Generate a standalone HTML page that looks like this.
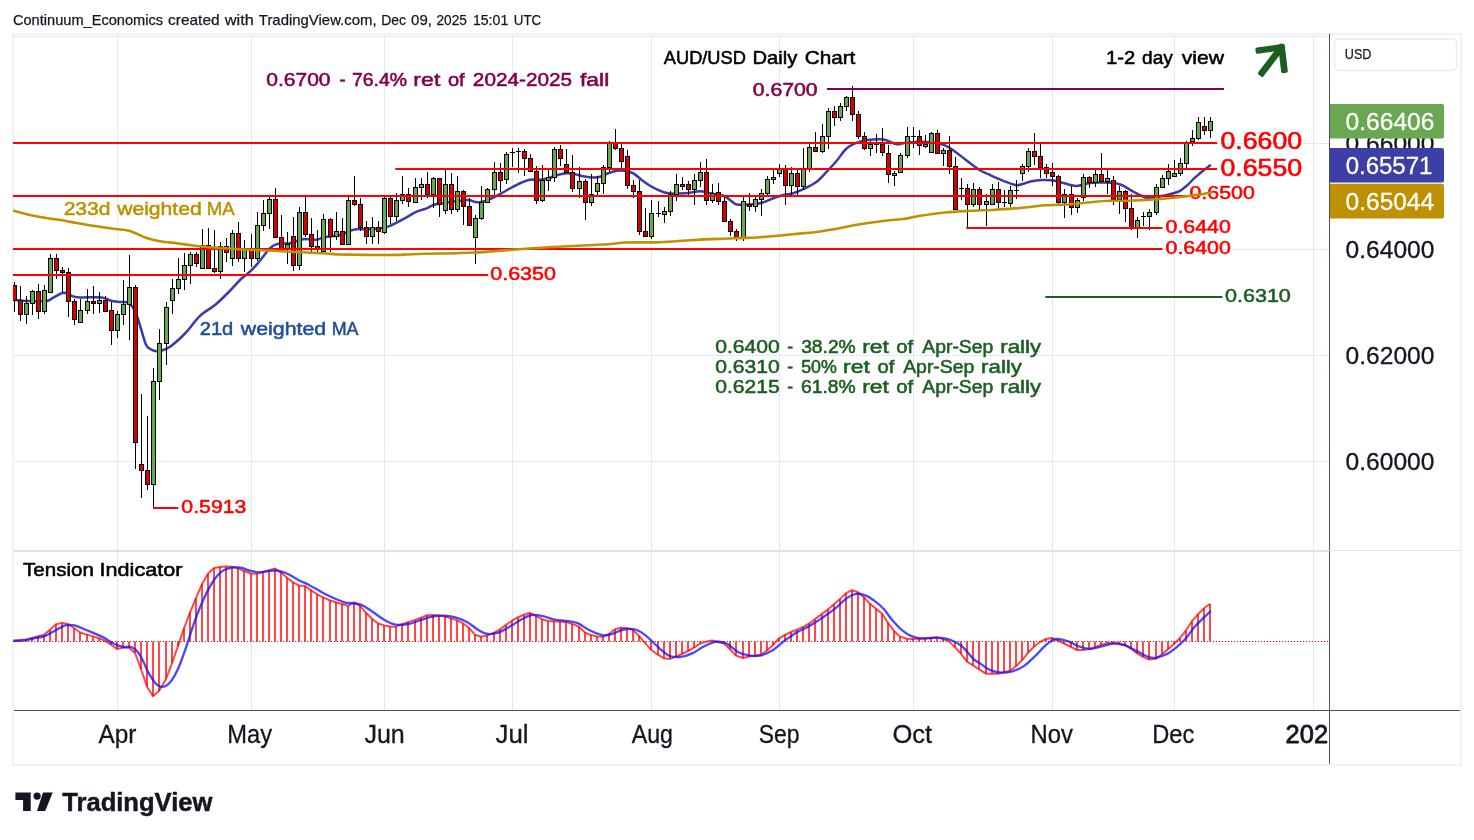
<!DOCTYPE html>
<html><head><meta charset="utf-8"><title>AUD/USD Daily Chart</title>
<style>html,body{margin:0;padding:0;background:#fff;width:1474px;height:840px;overflow:hidden}</style></head>
<body>
<svg width="1474" height="840" viewBox="0 0 1474 840" style="position:absolute;left:0;top:0;will-change:transform;font-family:'Liberation Sans',sans-serif">
<rect width="1474" height="840" fill="#fff"/>
<rect x="13" y="34" width="1448" height="731" fill="none" stroke="#f1f2f4" stroke-width="2"/>
<line x1="117.5" y1="35" x2="117.5" y2="710" stroke="#dfeaf2" stroke-width="1"/>
<line x1="251.5" y1="35" x2="251.5" y2="710" stroke="#dfeaf2" stroke-width="1"/>
<line x1="384.5" y1="35" x2="384.5" y2="710" stroke="#dfeaf2" stroke-width="1"/>
<line x1="512.5" y1="35" x2="512.5" y2="710" stroke="#dfeaf2" stroke-width="1"/>
<line x1="651.5" y1="35" x2="651.5" y2="710" stroke="#dfeaf2" stroke-width="1"/>
<line x1="779.5" y1="35" x2="779.5" y2="710" stroke="#dfeaf2" stroke-width="1"/>
<line x1="913.5" y1="35" x2="913.5" y2="710" stroke="#dfeaf2" stroke-width="1"/>
<line x1="1052.5" y1="35" x2="1052.5" y2="710" stroke="#dfeaf2" stroke-width="1"/>
<line x1="1174.5" y1="35" x2="1174.5" y2="710" stroke="#dfeaf2" stroke-width="1"/>
<line x1="1313.5" y1="35" x2="1313.5" y2="710" stroke="#dfeaf2" stroke-width="1"/>
<line x1="14" y1="36.5" x2="1329" y2="36.5" stroke="#dfeaf2" stroke-width="1"/>
<line x1="14" y1="143.5" x2="1329" y2="143.5" stroke="#dfeaf2" stroke-width="1"/>
<line x1="14" y1="249.5" x2="1329" y2="249.5" stroke="#dfeaf2" stroke-width="1"/>
<line x1="14" y1="355.5" x2="1329" y2="355.5" stroke="#dfeaf2" stroke-width="1"/>
<line x1="14" y1="461.5" x2="1329" y2="461.5" stroke="#dfeaf2" stroke-width="1"/>
<rect x="14" y="550" width="1315" height="2" fill="#dae2ec"/><rect x="1330" y="550" width="130" height="1" fill="#e0e3eb"/>
<defs><clipPath id="cp"><rect x="13" y="36" width="1316" height="674"/></clipPath><clipPath id="tx"><rect x="13" y="711" width="1315.3" height="53"/></clipPath></defs>
<g clip-path="url(#cp)">
<path d="M13.3 299.6 C15.6 299.8 21.4 300.7 27.0 300.9 C32.6 301.1 42.3 301.4 46.7 300.9 C51.1 300.3 50.6 298.9 53.2 297.6 C55.8 296.3 60.2 293.7 62.4 293.0 C64.6 292.3 64.5 292.8 66.3 293.4 C68.0 293.9 70.5 295.6 72.9 296.3 C75.3 297.0 75.9 297.2 80.7 297.4 C85.5 297.6 96.9 296.9 101.7 297.4 C106.5 297.9 106.9 299.5 109.5 300.2 C112.1 300.9 114.5 301.4 117.4 301.8 C120.3 302.2 124.2 301.5 126.7 302.3 C129.2 303.1 130.6 303.8 132.5 306.7 C134.4 309.6 136.1 313.8 138.3 320.0 C140.5 326.2 143.7 339.3 145.8 344.2 C147.9 349.1 149.0 348.0 150.8 349.2 C152.6 350.4 154.6 351.2 156.7 351.3 C158.8 351.4 161.1 350.8 163.3 350.0 C165.5 349.2 167.5 348.4 170.0 346.7 C172.5 345.0 175.5 342.5 178.3 340.0 C181.1 337.5 183.1 335.7 186.7 331.7 C190.3 327.7 195.3 320.2 200.0 315.8 C204.7 311.4 210.3 308.9 215.0 305.0 C219.7 301.1 224.1 296.7 228.3 292.5 C232.5 288.3 236.4 283.5 240.0 280.0 C243.6 276.5 246.9 274.6 250.0 271.7 C253.1 268.8 255.8 265.6 258.3 262.7 C260.8 259.8 263.1 256.6 265.0 254.2 C266.9 251.8 268.1 250.0 270.0 248.3 C271.9 246.6 274.5 245.0 276.7 244.2 C278.9 243.4 281.1 243.5 283.3 243.3 C285.5 243.2 286.7 244.0 290.0 243.3 C293.3 242.6 298.9 239.8 303.3 239.2 C307.8 238.6 313.4 240.0 316.7 239.7 C320.0 239.4 319.4 238.3 323.3 237.5 C327.2 236.7 335.6 236.1 340.0 235.0 C344.4 233.9 347.2 231.8 350.0 230.8 C352.8 229.8 353.9 229.5 356.7 229.2 C359.5 228.9 362.8 229.3 366.7 229.2 C370.6 229.0 376.1 228.9 380.0 228.3 C383.9 227.7 386.1 227.3 390.0 225.8 C393.9 224.3 398.9 221.5 403.3 219.2 C407.8 216.8 412.8 213.5 416.7 211.7 C420.6 209.9 423.9 209.4 426.7 208.3 C429.5 207.2 430.8 205.8 433.3 205.0 C435.8 204.2 436.1 204.1 441.7 203.3 C447.3 202.5 461.1 200.2 466.7 200.0 C472.2 199.8 472.5 201.7 475.0 202.0 C477.5 202.3 478.9 202.6 481.7 202.0 C484.5 201.4 488.6 199.6 491.7 198.3 C494.8 197.0 496.7 196.0 500.0 194.2 C503.3 192.4 508.1 189.4 511.7 187.5 C515.3 185.6 518.7 183.8 521.7 182.5 C524.8 181.2 527.2 180.1 530.0 179.7 C532.8 179.3 535.2 180.2 538.3 180.0 C541.3 179.8 545.0 179.2 548.3 178.3 C551.6 177.4 555.2 175.5 558.3 174.7 C561.4 173.9 563.9 173.4 566.7 173.3 C569.5 173.2 572.2 173.7 575.0 174.2 C577.8 174.7 580.5 175.8 583.3 176.3 C586.1 176.9 588.9 177.4 591.7 177.5 C594.5 177.6 597.2 177.4 600.0 176.7 C602.8 176.0 605.5 174.3 608.3 173.3 C611.1 172.3 613.9 171.2 616.7 170.8 C619.5 170.4 622.2 170.4 625.0 170.8 C627.8 171.2 630.5 171.8 633.3 173.3 C636.1 174.8 638.9 177.9 641.7 180.0 C644.5 182.1 647.2 184.1 650.0 185.8 C652.8 187.5 655.2 188.8 658.3 190.0 C661.3 191.2 663.8 192.8 668.3 193.3 C672.8 193.9 679.7 193.6 685.0 193.3 C690.3 193.0 695.8 191.3 700.0 191.3 C704.2 191.3 706.1 192.6 710.0 193.3 C713.9 194.1 720.0 194.7 723.3 195.8 C726.6 196.9 727.8 198.6 730.0 200.0 C732.2 201.4 733.9 203.8 736.7 204.5 C739.5 205.2 742.8 204.7 746.7 204.5 C750.6 204.3 755.6 204.3 760.0 203.3 C764.4 202.3 769.4 199.7 773.3 198.3 C777.2 196.9 780.0 195.8 783.3 195.0 C786.6 194.2 790.0 194.3 793.3 193.3 C796.6 192.3 799.4 191.1 803.3 189.2 C807.2 187.3 812.8 184.6 816.7 181.7 C820.6 178.8 823.4 175.2 826.7 171.7 C830.0 168.2 833.7 164.4 836.7 160.8 C839.8 157.2 842.2 152.8 845.0 150.0 C847.8 147.2 850.2 145.7 853.3 144.2 C856.3 142.7 860.0 141.6 863.3 140.8 C866.6 140.0 870.0 139.7 873.3 139.5 C876.6 139.3 880.5 139.1 883.3 139.5 C886.1 139.9 887.8 140.9 890.0 141.7 C892.2 142.5 894.2 144.0 896.7 144.2 C899.2 144.4 901.1 143.4 905.0 143.0 C908.9 142.6 913.9 141.5 920.0 141.7 C926.1 141.9 936.4 142.9 941.7 144.2 C947.0 145.4 947.8 146.7 951.7 149.2 C955.6 151.7 960.6 155.9 965.0 159.2 C969.4 162.5 974.4 166.7 978.3 169.2 C982.2 171.7 984.1 172.3 988.3 174.2 C992.5 176.1 998.8 179.0 1003.3 180.8 C1007.8 182.6 1011.9 184.4 1015.0 185.0 C1018.1 185.6 1018.9 184.8 1021.7 184.2 C1024.5 183.6 1028.4 182.0 1031.7 181.3 C1035.0 180.6 1038.4 180.2 1041.7 180.0 C1045.0 179.8 1048.4 179.9 1051.7 180.3 C1055.0 180.7 1058.4 181.7 1061.7 182.5 C1065.0 183.3 1068.9 184.8 1071.7 185.3 C1074.5 185.9 1075.5 186.1 1078.3 185.8 C1081.1 185.5 1085.0 183.9 1088.3 183.3 C1091.6 182.8 1094.4 182.6 1098.3 182.5 C1102.2 182.4 1107.8 182.4 1111.7 182.8 C1115.6 183.2 1118.1 183.5 1121.7 185.0 C1125.3 186.5 1129.7 189.8 1133.3 191.7 C1136.9 193.6 1140.5 195.6 1143.3 196.7 C1146.1 197.8 1146.7 198.2 1150.0 198.0 C1153.3 197.8 1159.4 196.6 1163.3 195.8 C1167.2 195.0 1170.5 194.1 1173.3 193.3 C1176.1 192.5 1177.8 192.1 1180.0 190.8 C1182.2 189.6 1184.5 187.7 1186.7 185.8 C1188.9 183.9 1191.1 181.3 1193.3 179.2 C1195.5 177.1 1197.8 175.2 1200.0 173.3 C1202.2 171.4 1204.9 169.4 1206.7 168.0 C1208.5 166.6 1210.1 165.2 1210.8 164.7" fill="none" stroke="#3a3aa8" stroke-width="2.5" stroke-linejoin="round"/>
<rect x="14.0" y="282" width="1" height="30" fill="#000"/>
<rect x="12.5" y="285.5" width="4" height="15" fill="#d90000" stroke="#000" stroke-width="1"/>
<rect x="20.0" y="286" width="1" height="35" fill="#000"/>
<rect x="18.5" y="300.5" width="4" height="14" fill="#d90000" stroke="#000" stroke-width="1"/>
<rect x="26.0" y="296" width="1" height="28" fill="#000"/>
<rect x="24.5" y="303.5" width="4" height="11" fill="#6aa84f" stroke="#000" stroke-width="1"/>
<rect x="32.0" y="290" width="1" height="25" fill="#000"/>
<rect x="30.5" y="291.5" width="4" height="12" fill="#6aa84f" stroke="#000" stroke-width="1"/>
<rect x="38.0" y="284" width="1" height="35" fill="#000"/>
<rect x="36.5" y="291.5" width="4" height="20" fill="#d90000" stroke="#000" stroke-width="1"/>
<rect x="44.0" y="285" width="1" height="29" fill="#000"/>
<rect x="42.5" y="290.5" width="4" height="21" fill="#6aa84f" stroke="#000" stroke-width="1"/>
<rect x="50.0" y="254" width="1" height="39" fill="#000"/>
<rect x="48.5" y="258.5" width="4" height="34" fill="#6aa84f" stroke="#000" stroke-width="1"/>
<rect x="56.0" y="254" width="1" height="25" fill="#000"/>
<rect x="54.5" y="258.5" width="4" height="12" fill="#d90000" stroke="#000" stroke-width="1"/>
<rect x="62.0" y="267" width="1" height="25" fill="#000"/>
<rect x="60.5" y="270.5" width="4" height="2" fill="#d90000" stroke="#000" stroke-width="1"/>
<rect x="68.0" y="268" width="1" height="49" fill="#000"/>
<rect x="66.5" y="272.5" width="4" height="29" fill="#d90000" stroke="#000" stroke-width="1"/>
<rect x="74.0" y="299" width="1" height="26" fill="#000"/>
<rect x="72.5" y="301.5" width="4" height="18" fill="#d90000" stroke="#000" stroke-width="1"/>
<rect x="80.0" y="299" width="1" height="24" fill="#000"/>
<rect x="78.5" y="310.5" width="4" height="12" fill="#6aa84f" stroke="#000" stroke-width="1"/>
<rect x="87.0" y="289" width="1" height="25" fill="#000"/>
<rect x="85.5" y="301.5" width="4" height="9" fill="#6aa84f" stroke="#000" stroke-width="1"/>
<rect x="93.0" y="286" width="1" height="28" fill="#000"/>
<rect x="91.5" y="301.5" width="4" height="2" fill="#d90000" stroke="#000" stroke-width="1"/>
<rect x="99.0" y="292" width="1" height="21" fill="#000"/>
<rect x="97.5" y="300.5" width="4" height="3" fill="#6aa84f" stroke="#000" stroke-width="1"/>
<rect x="105.0" y="296" width="1" height="16" fill="#000"/>
<rect x="103.5" y="300.5" width="4" height="11" fill="#d90000" stroke="#000" stroke-width="1"/>
<rect x="111.0" y="302" width="1" height="43" fill="#000"/>
<rect x="109.5" y="310.5" width="4" height="20" fill="#d90000" stroke="#000" stroke-width="1"/>
<rect x="117.0" y="311" width="1" height="27" fill="#000"/>
<rect x="115.5" y="314.5" width="4" height="16" fill="#6aa84f" stroke="#000" stroke-width="1"/>
<rect x="123.0" y="280" width="1" height="45" fill="#000"/>
<rect x="121.5" y="304.5" width="4" height="10" fill="#6aa84f" stroke="#000" stroke-width="1"/>
<rect x="129.0" y="255" width="1" height="85" fill="#000"/>
<rect x="127.5" y="287.5" width="4" height="17" fill="#6aa84f" stroke="#000" stroke-width="1"/>
<rect x="135.0" y="285" width="1" height="184" fill="#000"/>
<rect x="133.5" y="287.5" width="4" height="155" fill="#d90000" stroke="#000" stroke-width="1"/>
<rect x="141.0" y="394" width="1" height="104" fill="#000"/>
<rect x="139.5" y="464.5" width="4" height="6" fill="#d90000" stroke="#000" stroke-width="1"/>
<rect x="147.0" y="416" width="1" height="74" fill="#000"/>
<rect x="145.5" y="470.5" width="4" height="14" fill="#d90000" stroke="#000" stroke-width="1"/>
<rect x="153.0" y="368" width="1" height="140" fill="#000"/>
<rect x="151.5" y="381.5" width="4" height="103" fill="#6aa84f" stroke="#000" stroke-width="1"/>
<rect x="159.0" y="329" width="1" height="71" fill="#000"/>
<rect x="157.5" y="343.5" width="4" height="38" fill="#6aa84f" stroke="#000" stroke-width="1"/>
<rect x="166.0" y="302" width="1" height="63" fill="#000"/>
<rect x="164.5" y="307.5" width="4" height="36" fill="#6aa84f" stroke="#000" stroke-width="1"/>
<rect x="172.0" y="279" width="1" height="35" fill="#000"/>
<rect x="170.5" y="288.5" width="4" height="12" fill="#6aa84f" stroke="#000" stroke-width="1"/>
<rect x="178.0" y="258" width="1" height="36" fill="#000"/>
<rect x="176.5" y="279.5" width="4" height="9" fill="#6aa84f" stroke="#000" stroke-width="1"/>
<rect x="184.0" y="253" width="1" height="37" fill="#000"/>
<rect x="182.5" y="265.5" width="4" height="14" fill="#6aa84f" stroke="#000" stroke-width="1"/>
<rect x="190.0" y="252" width="1" height="32" fill="#000"/>
<rect x="188.5" y="254.5" width="4" height="11" fill="#6aa84f" stroke="#000" stroke-width="1"/>
<rect x="196.0" y="252" width="1" height="15" fill="#000"/>
<rect x="194.5" y="254.5" width="4" height="9" fill="#d90000" stroke="#000" stroke-width="1"/>
<rect x="202.0" y="229" width="1" height="40" fill="#000"/>
<rect x="200.5" y="245.5" width="4" height="23" fill="#6aa84f" stroke="#000" stroke-width="1"/>
<rect x="208.0" y="228" width="1" height="41" fill="#000"/>
<rect x="206.5" y="245.5" width="4" height="23" fill="#d90000" stroke="#000" stroke-width="1"/>
<rect x="214.0" y="230" width="1" height="43" fill="#000"/>
<rect x="212.5" y="268.5" width="4" height="3" fill="#d90000" stroke="#000" stroke-width="1"/>
<rect x="220.0" y="242" width="1" height="37" fill="#000"/>
<rect x="218.5" y="246.5" width="4" height="25" fill="#6aa84f" stroke="#000" stroke-width="1"/>
<rect x="226.0" y="238" width="1" height="24" fill="#000"/>
<rect x="224.5" y="246.5" width="4" height="6" fill="#d90000" stroke="#000" stroke-width="1"/>
<rect x="232.0" y="230" width="1" height="36" fill="#000"/>
<rect x="230.5" y="233.5" width="4" height="25" fill="#6aa84f" stroke="#000" stroke-width="1"/>
<rect x="238.0" y="222" width="1" height="40" fill="#000"/>
<rect x="236.5" y="233.5" width="4" height="25" fill="#d90000" stroke="#000" stroke-width="1"/>
<rect x="244.0" y="240" width="1" height="32" fill="#000"/>
<rect x="242.5" y="248.5" width="4" height="10" fill="#6aa84f" stroke="#000" stroke-width="1"/>
<rect x="251.0" y="234" width="1" height="33" fill="#000"/>
<rect x="249.5" y="248.5" width="4" height="10" fill="#d90000" stroke="#000" stroke-width="1"/>
<rect x="257.0" y="212" width="1" height="49" fill="#000"/>
<rect x="255.5" y="225.5" width="4" height="33" fill="#6aa84f" stroke="#000" stroke-width="1"/>
<rect x="263.0" y="200" width="1" height="31" fill="#000"/>
<rect x="261.5" y="213.5" width="4" height="12" fill="#6aa84f" stroke="#000" stroke-width="1"/>
<rect x="269.0" y="197" width="1" height="32" fill="#000"/>
<rect x="267.5" y="199.5" width="4" height="14" fill="#6aa84f" stroke="#000" stroke-width="1"/>
<rect x="275.0" y="188" width="1" height="50" fill="#000"/>
<rect x="273.5" y="199.5" width="4" height="38" fill="#d90000" stroke="#000" stroke-width="1"/>
<rect x="281.0" y="215" width="1" height="35" fill="#000"/>
<rect x="279.5" y="237.5" width="4" height="11" fill="#d90000" stroke="#000" stroke-width="1"/>
<rect x="287.0" y="232" width="1" height="32" fill="#000"/>
<rect x="285.5" y="244.5" width="4" height="4" fill="#6aa84f" stroke="#000" stroke-width="1"/>
<rect x="293.0" y="217" width="1" height="54" fill="#000"/>
<rect x="291.5" y="236.5" width="4" height="29" fill="#d90000" stroke="#000" stroke-width="1"/>
<rect x="299.0" y="207" width="1" height="63" fill="#000"/>
<rect x="297.5" y="212.5" width="4" height="53" fill="#6aa84f" stroke="#000" stroke-width="1"/>
<rect x="305.0" y="197" width="1" height="40" fill="#000"/>
<rect x="303.5" y="212.5" width="4" height="22" fill="#d90000" stroke="#000" stroke-width="1"/>
<rect x="311.0" y="218" width="1" height="35" fill="#000"/>
<rect x="309.5" y="234.5" width="4" height="12" fill="#d90000" stroke="#000" stroke-width="1"/>
<rect x="317.0" y="230" width="1" height="24" fill="#000"/>
<rect x="315.5" y="246.5" width="4" height="3" fill="#d90000" stroke="#000" stroke-width="1"/>
<rect x="323.0" y="214" width="1" height="38" fill="#000"/>
<rect x="321.5" y="219.5" width="4" height="32" fill="#6aa84f" stroke="#000" stroke-width="1"/>
<rect x="330.0" y="218" width="1" height="34" fill="#000"/>
<rect x="328.5" y="219.5" width="4" height="17" fill="#d90000" stroke="#000" stroke-width="1"/>
<rect x="336.0" y="212" width="1" height="28" fill="#000"/>
<rect x="334.5" y="231.5" width="4" height="5" fill="#6aa84f" stroke="#000" stroke-width="1"/>
<rect x="342.0" y="218" width="1" height="27" fill="#000"/>
<rect x="340.5" y="231.5" width="4" height="13" fill="#d90000" stroke="#000" stroke-width="1"/>
<rect x="348.0" y="197" width="1" height="48" fill="#000"/>
<rect x="346.5" y="200.5" width="4" height="44" fill="#6aa84f" stroke="#000" stroke-width="1"/>
<rect x="354.0" y="176" width="1" height="30" fill="#000"/>
<rect x="352.5" y="200.5" width="4" height="4" fill="#d90000" stroke="#000" stroke-width="1"/>
<rect x="360.0" y="198" width="1" height="33" fill="#000"/>
<rect x="358.5" y="204.5" width="4" height="23" fill="#d90000" stroke="#000" stroke-width="1"/>
<rect x="366.0" y="221" width="1" height="23" fill="#000"/>
<rect x="364.5" y="227.5" width="4" height="9" fill="#d90000" stroke="#000" stroke-width="1"/>
<rect x="372.0" y="217" width="1" height="27" fill="#000"/>
<rect x="370.5" y="227.5" width="4" height="9" fill="#6aa84f" stroke="#000" stroke-width="1"/>
<rect x="378.0" y="221" width="1" height="23" fill="#000"/>
<rect x="376.5" y="227.5" width="4" height="4" fill="#d90000" stroke="#000" stroke-width="1"/>
<rect x="384.0" y="197" width="1" height="37" fill="#000"/>
<rect x="382.5" y="198.5" width="4" height="34" fill="#6aa84f" stroke="#000" stroke-width="1"/>
<rect x="390.0" y="197" width="1" height="27" fill="#000"/>
<rect x="388.5" y="198.5" width="4" height="18" fill="#d90000" stroke="#000" stroke-width="1"/>
<rect x="396.0" y="193" width="1" height="28" fill="#000"/>
<rect x="394.5" y="200.5" width="4" height="16" fill="#6aa84f" stroke="#000" stroke-width="1"/>
<rect x="402.0" y="176" width="1" height="28" fill="#000"/>
<rect x="400.5" y="194.5" width="4" height="6" fill="#6aa84f" stroke="#000" stroke-width="1"/>
<rect x="408.0" y="188" width="1" height="19" fill="#000"/>
<rect x="406.5" y="194.5" width="4" height="7" fill="#d90000" stroke="#000" stroke-width="1"/>
<rect x="415.0" y="178" width="1" height="25" fill="#000"/>
<rect x="413.5" y="187.5" width="4" height="15" fill="#6aa84f" stroke="#000" stroke-width="1"/>
<rect x="421.0" y="178" width="1" height="22" fill="#000"/>
<rect x="419.5" y="184.5" width="4" height="3" fill="#6aa84f" stroke="#000" stroke-width="1"/>
<rect x="427.0" y="172" width="1" height="26" fill="#000"/>
<rect x="425.5" y="184.5" width="4" height="10" fill="#d90000" stroke="#000" stroke-width="1"/>
<rect x="433.0" y="177" width="1" height="31" fill="#000"/>
<rect x="431.5" y="178.5" width="4" height="16" fill="#6aa84f" stroke="#000" stroke-width="1"/>
<rect x="439.0" y="178" width="1" height="39" fill="#000"/>
<rect x="437.5" y="178.5" width="4" height="26" fill="#d90000" stroke="#000" stroke-width="1"/>
<rect x="445.0" y="170" width="1" height="44" fill="#000"/>
<rect x="443.5" y="184.5" width="4" height="26" fill="#6aa84f" stroke="#000" stroke-width="1"/>
<rect x="451.0" y="173" width="1" height="41" fill="#000"/>
<rect x="449.5" y="184.5" width="4" height="25" fill="#d90000" stroke="#000" stroke-width="1"/>
<rect x="457.0" y="176" width="1" height="36" fill="#000"/>
<rect x="455.5" y="191.5" width="4" height="18" fill="#6aa84f" stroke="#000" stroke-width="1"/>
<rect x="463.0" y="190" width="1" height="35" fill="#000"/>
<rect x="461.5" y="191.5" width="4" height="15" fill="#d90000" stroke="#000" stroke-width="1"/>
<rect x="469.0" y="198" width="1" height="28" fill="#000"/>
<rect x="467.5" y="206.5" width="4" height="19" fill="#d90000" stroke="#000" stroke-width="1"/>
<rect x="475.0" y="215" width="1" height="49" fill="#000"/>
<rect x="473.5" y="218.5" width="4" height="19" fill="#6aa84f" stroke="#000" stroke-width="1"/>
<rect x="481.0" y="186" width="1" height="34" fill="#000"/>
<rect x="479.5" y="202.5" width="4" height="16" fill="#6aa84f" stroke="#000" stroke-width="1"/>
<rect x="487.0" y="188" width="1" height="15" fill="#000"/>
<rect x="485.5" y="189.5" width="4" height="13" fill="#6aa84f" stroke="#000" stroke-width="1"/>
<rect x="494.0" y="162" width="1" height="33" fill="#000"/>
<rect x="492.5" y="172.5" width="4" height="17" fill="#6aa84f" stroke="#000" stroke-width="1"/>
<rect x="500.0" y="163" width="1" height="29" fill="#000"/>
<rect x="498.5" y="172.5" width="4" height="8" fill="#d90000" stroke="#000" stroke-width="1"/>
<rect x="506.0" y="152" width="1" height="32" fill="#000"/>
<rect x="504.5" y="154.5" width="4" height="25" fill="#6aa84f" stroke="#000" stroke-width="1"/>
<rect x="512.0" y="148" width="1" height="19" fill="#000"/>
<rect x="510.0" y="152" width="5" height="1" fill="#000"/>
<rect x="518.0" y="148" width="1" height="25" fill="#000"/>
<rect x="516.0" y="151" width="5" height="1" fill="#000"/>
<rect x="524.0" y="149" width="1" height="27" fill="#000"/>
<rect x="522.5" y="151.5" width="4" height="7" fill="#d90000" stroke="#000" stroke-width="1"/>
<rect x="530.0" y="154" width="1" height="18" fill="#000"/>
<rect x="528.5" y="158.5" width="4" height="13" fill="#d90000" stroke="#000" stroke-width="1"/>
<rect x="536.0" y="166" width="1" height="38" fill="#000"/>
<rect x="534.5" y="171.5" width="4" height="29" fill="#d90000" stroke="#000" stroke-width="1"/>
<rect x="542.0" y="165" width="1" height="37" fill="#000"/>
<rect x="540.5" y="180.5" width="4" height="20" fill="#6aa84f" stroke="#000" stroke-width="1"/>
<rect x="548.0" y="170" width="1" height="21" fill="#000"/>
<rect x="546.5" y="177.5" width="4" height="3" fill="#6aa84f" stroke="#000" stroke-width="1"/>
<rect x="554.0" y="147" width="1" height="35" fill="#000"/>
<rect x="552.5" y="149.5" width="4" height="28" fill="#6aa84f" stroke="#000" stroke-width="1"/>
<rect x="560.0" y="145" width="1" height="21" fill="#000"/>
<rect x="558.5" y="149.5" width="4" height="9" fill="#d90000" stroke="#000" stroke-width="1"/>
<rect x="566.0" y="149" width="1" height="24" fill="#000"/>
<rect x="564.5" y="164.5" width="4" height="8" fill="#d90000" stroke="#000" stroke-width="1"/>
<rect x="572.0" y="155" width="1" height="37" fill="#000"/>
<rect x="570.5" y="172.5" width="4" height="16" fill="#d90000" stroke="#000" stroke-width="1"/>
<rect x="579.0" y="167" width="1" height="31" fill="#000"/>
<rect x="577.5" y="181.5" width="4" height="7" fill="#6aa84f" stroke="#000" stroke-width="1"/>
<rect x="585.0" y="179" width="1" height="41" fill="#000"/>
<rect x="583.5" y="181.5" width="4" height="21" fill="#d90000" stroke="#000" stroke-width="1"/>
<rect x="591.0" y="174" width="1" height="32" fill="#000"/>
<rect x="589.5" y="194.5" width="4" height="8" fill="#6aa84f" stroke="#000" stroke-width="1"/>
<rect x="597.0" y="176" width="1" height="19" fill="#000"/>
<rect x="595.5" y="183.5" width="4" height="8" fill="#6aa84f" stroke="#000" stroke-width="1"/>
<rect x="603.0" y="165" width="1" height="29" fill="#000"/>
<rect x="601.5" y="167.5" width="4" height="16" fill="#6aa84f" stroke="#000" stroke-width="1"/>
<rect x="609.0" y="141" width="1" height="31" fill="#000"/>
<rect x="607.5" y="143.5" width="4" height="24" fill="#6aa84f" stroke="#000" stroke-width="1"/>
<rect x="615.0" y="129" width="1" height="21" fill="#000"/>
<rect x="613.5" y="143.5" width="4" height="5" fill="#d90000" stroke="#000" stroke-width="1"/>
<rect x="621.0" y="144" width="1" height="24" fill="#000"/>
<rect x="619.5" y="148.5" width="4" height="13" fill="#d90000" stroke="#000" stroke-width="1"/>
<rect x="627.0" y="150" width="1" height="39" fill="#000"/>
<rect x="625.5" y="156.5" width="4" height="29" fill="#d90000" stroke="#000" stroke-width="1"/>
<rect x="633.0" y="180" width="1" height="18" fill="#000"/>
<rect x="631.5" y="185.5" width="4" height="6" fill="#d90000" stroke="#000" stroke-width="1"/>
<rect x="639.0" y="180" width="1" height="55" fill="#000"/>
<rect x="637.5" y="191.5" width="4" height="40" fill="#d90000" stroke="#000" stroke-width="1"/>
<rect x="645.0" y="208" width="1" height="29" fill="#000"/>
<rect x="643.5" y="231.5" width="4" height="5" fill="#d90000" stroke="#000" stroke-width="1"/>
<rect x="651.0" y="200" width="1" height="39" fill="#000"/>
<rect x="649.5" y="213.5" width="4" height="23" fill="#6aa84f" stroke="#000" stroke-width="1"/>
<rect x="658.0" y="201" width="1" height="16" fill="#000"/>
<rect x="656.0" y="213" width="5" height="1" fill="#000"/>
<rect x="664.0" y="207" width="1" height="16" fill="#000"/>
<rect x="662.5" y="211.5" width="4" height="3" fill="#6aa84f" stroke="#000" stroke-width="1"/>
<rect x="670.0" y="191" width="1" height="25" fill="#000"/>
<rect x="668.5" y="194.5" width="4" height="17" fill="#6aa84f" stroke="#000" stroke-width="1"/>
<rect x="676.0" y="174" width="1" height="27" fill="#000"/>
<rect x="674.5" y="184.5" width="4" height="10" fill="#6aa84f" stroke="#000" stroke-width="1"/>
<rect x="682.0" y="177" width="1" height="13" fill="#000"/>
<rect x="680.5" y="184.5" width="4" height="2" fill="#d90000" stroke="#000" stroke-width="1"/>
<rect x="688.0" y="181" width="1" height="14" fill="#000"/>
<rect x="686.5" y="184.5" width="4" height="5" fill="#d90000" stroke="#000" stroke-width="1"/>
<rect x="694.0" y="174" width="1" height="31" fill="#000"/>
<rect x="692.5" y="180.5" width="4" height="9" fill="#6aa84f" stroke="#000" stroke-width="1"/>
<rect x="700.0" y="162" width="1" height="25" fill="#000"/>
<rect x="698.5" y="172.5" width="4" height="8" fill="#6aa84f" stroke="#000" stroke-width="1"/>
<rect x="706.0" y="159" width="1" height="46" fill="#000"/>
<rect x="704.5" y="172.5" width="4" height="28" fill="#d90000" stroke="#000" stroke-width="1"/>
<rect x="712.0" y="184" width="1" height="19" fill="#000"/>
<rect x="710.5" y="193.5" width="4" height="7" fill="#6aa84f" stroke="#000" stroke-width="1"/>
<rect x="718.0" y="183" width="1" height="22" fill="#000"/>
<rect x="716.5" y="192.5" width="4" height="9" fill="#d90000" stroke="#000" stroke-width="1"/>
<rect x="724.0" y="197" width="1" height="25" fill="#000"/>
<rect x="722.5" y="201.5" width="4" height="20" fill="#d90000" stroke="#000" stroke-width="1"/>
<rect x="730.0" y="219" width="1" height="17" fill="#000"/>
<rect x="728.5" y="221.5" width="4" height="10" fill="#d90000" stroke="#000" stroke-width="1"/>
<rect x="736.0" y="229" width="1" height="12" fill="#000"/>
<rect x="734.5" y="231.5" width="4" height="7" fill="#d90000" stroke="#000" stroke-width="1"/>
<rect x="743.0" y="197" width="1" height="44" fill="#000"/>
<rect x="741.5" y="201.5" width="4" height="37" fill="#6aa84f" stroke="#000" stroke-width="1"/>
<rect x="749.0" y="193" width="1" height="18" fill="#000"/>
<rect x="747.5" y="204.5" width="4" height="2" fill="#d90000" stroke="#000" stroke-width="1"/>
<rect x="755.0" y="197" width="1" height="15" fill="#000"/>
<rect x="753.5" y="199.5" width="4" height="7" fill="#6aa84f" stroke="#000" stroke-width="1"/>
<rect x="761.0" y="189" width="1" height="27" fill="#000"/>
<rect x="759.5" y="193.5" width="4" height="6" fill="#6aa84f" stroke="#000" stroke-width="1"/>
<rect x="767.0" y="176" width="1" height="19" fill="#000"/>
<rect x="765.5" y="179.5" width="4" height="14" fill="#6aa84f" stroke="#000" stroke-width="1"/>
<rect x="773.0" y="170" width="1" height="14" fill="#000"/>
<rect x="771.5" y="177.5" width="4" height="2" fill="#6aa84f" stroke="#000" stroke-width="1"/>
<rect x="779.0" y="164" width="1" height="13" fill="#000"/>
<rect x="777.5" y="169.5" width="4" height="4" fill="#6aa84f" stroke="#000" stroke-width="1"/>
<rect x="785.0" y="165" width="1" height="40" fill="#000"/>
<rect x="783.5" y="169.5" width="4" height="16" fill="#d90000" stroke="#000" stroke-width="1"/>
<rect x="791.0" y="167" width="1" height="28" fill="#000"/>
<rect x="789.5" y="173.5" width="4" height="12" fill="#6aa84f" stroke="#000" stroke-width="1"/>
<rect x="797.0" y="170" width="1" height="25" fill="#000"/>
<rect x="795.5" y="173.5" width="4" height="13" fill="#d90000" stroke="#000" stroke-width="1"/>
<rect x="803.0" y="148" width="1" height="42" fill="#000"/>
<rect x="801.5" y="169.5" width="4" height="17" fill="#6aa84f" stroke="#000" stroke-width="1"/>
<rect x="809.0" y="144" width="1" height="28" fill="#000"/>
<rect x="807.5" y="147.5" width="4" height="22" fill="#6aa84f" stroke="#000" stroke-width="1"/>
<rect x="815.0" y="132" width="1" height="20" fill="#000"/>
<rect x="813.5" y="147.5" width="4" height="4" fill="#d90000" stroke="#000" stroke-width="1"/>
<rect x="822.0" y="124" width="1" height="29" fill="#000"/>
<rect x="820.5" y="136.5" width="4" height="15" fill="#6aa84f" stroke="#000" stroke-width="1"/>
<rect x="828.0" y="108" width="1" height="41" fill="#000"/>
<rect x="826.5" y="111.5" width="4" height="25" fill="#6aa84f" stroke="#000" stroke-width="1"/>
<rect x="834.0" y="106" width="1" height="20" fill="#000"/>
<rect x="832.5" y="111.5" width="4" height="6" fill="#d90000" stroke="#000" stroke-width="1"/>
<rect x="840.0" y="103" width="1" height="18" fill="#000"/>
<rect x="838.5" y="106.5" width="4" height="11" fill="#6aa84f" stroke="#000" stroke-width="1"/>
<rect x="846.0" y="96" width="1" height="15" fill="#000"/>
<rect x="844.5" y="97.5" width="4" height="9" fill="#6aa84f" stroke="#000" stroke-width="1"/>
<rect x="852.0" y="86" width="1" height="35" fill="#000"/>
<rect x="850.5" y="97.5" width="4" height="17" fill="#d90000" stroke="#000" stroke-width="1"/>
<rect x="858.0" y="111" width="1" height="28" fill="#000"/>
<rect x="856.5" y="114.5" width="4" height="22" fill="#d90000" stroke="#000" stroke-width="1"/>
<rect x="864.0" y="132" width="1" height="18" fill="#000"/>
<rect x="862.5" y="136.5" width="4" height="12" fill="#d90000" stroke="#000" stroke-width="1"/>
<rect x="870.0" y="141" width="1" height="15" fill="#000"/>
<rect x="868.5" y="144.5" width="4" height="4" fill="#6aa84f" stroke="#000" stroke-width="1"/>
<rect x="876.0" y="134" width="1" height="19" fill="#000"/>
<rect x="874.0" y="144" width="5" height="1" fill="#000"/>
<rect x="882.0" y="128" width="1" height="28" fill="#000"/>
<rect x="880.5" y="144.5" width="4" height="8" fill="#d90000" stroke="#000" stroke-width="1"/>
<rect x="888.0" y="145" width="1" height="38" fill="#000"/>
<rect x="886.5" y="153.5" width="4" height="21" fill="#d90000" stroke="#000" stroke-width="1"/>
<rect x="894.0" y="171" width="1" height="15" fill="#000"/>
<rect x="892.5" y="173.5" width="4" height="2" fill="#6aa84f" stroke="#000" stroke-width="1"/>
<rect x="900.0" y="153" width="1" height="20" fill="#000"/>
<rect x="898.5" y="155.5" width="4" height="17" fill="#6aa84f" stroke="#000" stroke-width="1"/>
<rect x="907.0" y="127" width="1" height="31" fill="#000"/>
<rect x="905.5" y="136.5" width="4" height="19" fill="#6aa84f" stroke="#000" stroke-width="1"/>
<rect x="913.0" y="127" width="1" height="21" fill="#000"/>
<rect x="911.0" y="136" width="5" height="1" fill="#000"/>
<rect x="919.0" y="130" width="1" height="25" fill="#000"/>
<rect x="917.5" y="136.5" width="4" height="9" fill="#d90000" stroke="#000" stroke-width="1"/>
<rect x="925.0" y="135" width="1" height="13" fill="#000"/>
<rect x="923.5" y="144.5" width="4" height="2" fill="#6aa84f" stroke="#000" stroke-width="1"/>
<rect x="931.0" y="132" width="1" height="21" fill="#000"/>
<rect x="929.5" y="133.5" width="4" height="19" fill="#6aa84f" stroke="#000" stroke-width="1"/>
<rect x="937.0" y="130" width="1" height="24" fill="#000"/>
<rect x="935.5" y="133.5" width="4" height="20" fill="#d90000" stroke="#000" stroke-width="1"/>
<rect x="943.0" y="148" width="1" height="18" fill="#000"/>
<rect x="941.5" y="150.5" width="4" height="3" fill="#6aa84f" stroke="#000" stroke-width="1"/>
<rect x="949.0" y="136" width="1" height="38" fill="#000"/>
<rect x="947.5" y="150.5" width="4" height="16" fill="#d90000" stroke="#000" stroke-width="1"/>
<rect x="955.0" y="157" width="1" height="53" fill="#000"/>
<rect x="953.5" y="166.5" width="4" height="43" fill="#d90000" stroke="#000" stroke-width="1"/>
<rect x="961.0" y="178" width="1" height="22" fill="#000"/>
<rect x="959.0" y="188" width="5" height="1" fill="#000"/>
<rect x="967.0" y="184" width="1" height="44" fill="#000"/>
<rect x="965.5" y="188.5" width="4" height="16" fill="#d90000" stroke="#000" stroke-width="1"/>
<rect x="973.0" y="183" width="1" height="24" fill="#000"/>
<rect x="971.5" y="189.5" width="4" height="15" fill="#6aa84f" stroke="#000" stroke-width="1"/>
<rect x="979.0" y="187" width="1" height="23" fill="#000"/>
<rect x="977.5" y="189.5" width="4" height="15" fill="#d90000" stroke="#000" stroke-width="1"/>
<rect x="986.0" y="194" width="1" height="32" fill="#000"/>
<rect x="984.5" y="201.5" width="4" height="3" fill="#6aa84f" stroke="#000" stroke-width="1"/>
<rect x="992.0" y="184" width="1" height="21" fill="#000"/>
<rect x="990.5" y="189.5" width="4" height="15" fill="#6aa84f" stroke="#000" stroke-width="1"/>
<rect x="998.0" y="182" width="1" height="27" fill="#000"/>
<rect x="996.5" y="189.5" width="4" height="13" fill="#d90000" stroke="#000" stroke-width="1"/>
<rect x="1004.0" y="190" width="1" height="17" fill="#000"/>
<rect x="1002.0" y="202" width="5" height="1" fill="#000"/>
<rect x="1010.0" y="186" width="1" height="21" fill="#000"/>
<rect x="1008.5" y="190.5" width="4" height="13" fill="#6aa84f" stroke="#000" stroke-width="1"/>
<rect x="1016.0" y="180" width="1" height="19" fill="#000"/>
<rect x="1014.0" y="190" width="5" height="1" fill="#000"/>
<rect x="1022.0" y="164" width="1" height="17" fill="#000"/>
<rect x="1020.5" y="166.5" width="4" height="7" fill="#6aa84f" stroke="#000" stroke-width="1"/>
<rect x="1028.0" y="148" width="1" height="24" fill="#000"/>
<rect x="1026.5" y="151.5" width="4" height="15" fill="#6aa84f" stroke="#000" stroke-width="1"/>
<rect x="1034.0" y="133" width="1" height="32" fill="#000"/>
<rect x="1032.5" y="151.5" width="4" height="5" fill="#d90000" stroke="#000" stroke-width="1"/>
<rect x="1040.0" y="144" width="1" height="34" fill="#000"/>
<rect x="1038.5" y="156.5" width="4" height="11" fill="#d90000" stroke="#000" stroke-width="1"/>
<rect x="1046.0" y="164" width="1" height="14" fill="#000"/>
<rect x="1044.5" y="167.5" width="4" height="6" fill="#d90000" stroke="#000" stroke-width="1"/>
<rect x="1052.0" y="163" width="1" height="23" fill="#000"/>
<rect x="1050.5" y="172.5" width="4" height="4" fill="#d90000" stroke="#000" stroke-width="1"/>
<rect x="1058.0" y="175" width="1" height="29" fill="#000"/>
<rect x="1056.5" y="176.5" width="4" height="26" fill="#d90000" stroke="#000" stroke-width="1"/>
<rect x="1064.0" y="189" width="1" height="29" fill="#000"/>
<rect x="1062.5" y="194.5" width="4" height="8" fill="#6aa84f" stroke="#000" stroke-width="1"/>
<rect x="1071.0" y="186" width="1" height="29" fill="#000"/>
<rect x="1069.5" y="194.5" width="4" height="13" fill="#d90000" stroke="#000" stroke-width="1"/>
<rect x="1077.0" y="198" width="1" height="15" fill="#000"/>
<rect x="1075.5" y="200.5" width="4" height="7" fill="#6aa84f" stroke="#000" stroke-width="1"/>
<rect x="1083.0" y="174" width="1" height="27" fill="#000"/>
<rect x="1081.5" y="177.5" width="4" height="20" fill="#6aa84f" stroke="#000" stroke-width="1"/>
<rect x="1089.0" y="176" width="1" height="12" fill="#000"/>
<rect x="1087.5" y="177.5" width="4" height="5" fill="#d90000" stroke="#000" stroke-width="1"/>
<rect x="1095.0" y="170" width="1" height="17" fill="#000"/>
<rect x="1093.5" y="174.5" width="4" height="8" fill="#6aa84f" stroke="#000" stroke-width="1"/>
<rect x="1101.0" y="153" width="1" height="30" fill="#000"/>
<rect x="1099.5" y="174.5" width="4" height="7" fill="#d90000" stroke="#000" stroke-width="1"/>
<rect x="1107.0" y="170" width="1" height="24" fill="#000"/>
<rect x="1105.5" y="178.5" width="4" height="3" fill="#6aa84f" stroke="#000" stroke-width="1"/>
<rect x="1113.0" y="176" width="1" height="29" fill="#000"/>
<rect x="1111.5" y="180.5" width="4" height="19" fill="#d90000" stroke="#000" stroke-width="1"/>
<rect x="1119.0" y="186" width="1" height="28" fill="#000"/>
<rect x="1117.5" y="191.5" width="4" height="8" fill="#6aa84f" stroke="#000" stroke-width="1"/>
<rect x="1125.0" y="190" width="1" height="32" fill="#000"/>
<rect x="1123.5" y="191.5" width="4" height="17" fill="#d90000" stroke="#000" stroke-width="1"/>
<rect x="1131.0" y="194" width="1" height="36" fill="#000"/>
<rect x="1129.5" y="208.5" width="4" height="19" fill="#d90000" stroke="#000" stroke-width="1"/>
<rect x="1137.0" y="217" width="1" height="21" fill="#000"/>
<rect x="1135.5" y="220.5" width="4" height="7" fill="#6aa84f" stroke="#000" stroke-width="1"/>
<rect x="1143.0" y="212" width="1" height="14" fill="#000"/>
<rect x="1141.0" y="216" width="5" height="1" fill="#000"/>
<rect x="1149.0" y="209" width="1" height="21" fill="#000"/>
<rect x="1147.5" y="212.5" width="4" height="4" fill="#6aa84f" stroke="#000" stroke-width="1"/>
<rect x="1156.0" y="184" width="1" height="31" fill="#000"/>
<rect x="1154.5" y="187.5" width="4" height="25" fill="#6aa84f" stroke="#000" stroke-width="1"/>
<rect x="1162.0" y="175" width="1" height="13" fill="#000"/>
<rect x="1160.5" y="178.5" width="4" height="9" fill="#6aa84f" stroke="#000" stroke-width="1"/>
<rect x="1168.0" y="164" width="1" height="21" fill="#000"/>
<rect x="1166.5" y="171.5" width="4" height="7" fill="#6aa84f" stroke="#000" stroke-width="1"/>
<rect x="1174.0" y="160" width="1" height="17" fill="#000"/>
<rect x="1172.5" y="173.5" width="4" height="3" fill="#6aa84f" stroke="#000" stroke-width="1"/>
<rect x="1180.0" y="158" width="1" height="18" fill="#000"/>
<rect x="1178.5" y="163.5" width="4" height="10" fill="#6aa84f" stroke="#000" stroke-width="1"/>
<rect x="1186.0" y="141" width="1" height="27" fill="#000"/>
<rect x="1184.5" y="143.5" width="4" height="20" fill="#6aa84f" stroke="#000" stroke-width="1"/>
<rect x="1192.0" y="130" width="1" height="16" fill="#000"/>
<rect x="1190.5" y="138.5" width="4" height="3" fill="#6aa84f" stroke="#000" stroke-width="1"/>
<rect x="1198.0" y="117" width="1" height="23" fill="#000"/>
<rect x="1196.5" y="122.5" width="4" height="16" fill="#6aa84f" stroke="#000" stroke-width="1"/>
<rect x="1204.0" y="117" width="1" height="18" fill="#000"/>
<rect x="1202.5" y="126.5" width="4" height="4" fill="#d90000" stroke="#000" stroke-width="1"/>
<rect x="1210.0" y="117" width="1" height="21" fill="#000"/>
<rect x="1208.5" y="121.5" width="4" height="9" fill="#6aa84f" stroke="#000" stroke-width="1"/>
<line x1="13.0" y1="143.0" x2="1217.2" y2="143.0" stroke="#ff0000" stroke-width="2"/>
<line x1="395.3" y1="169.0" x2="1217.2" y2="169.0" stroke="#ff0000" stroke-width="2"/>
<line x1="13.0" y1="196.0" x2="1189.0" y2="196.0" stroke="#ff0000" stroke-width="2"/>
<line x1="13.0" y1="249.0" x2="1162.5" y2="249.0" stroke="#ff0000" stroke-width="2"/>
<line x1="13.0" y1="275.0" x2="488.2" y2="275.0" stroke="#ff0000" stroke-width="2"/>
<line x1="966.3" y1="228.0" x2="1162.5" y2="228.0" stroke="#ff0000" stroke-width="2"/>
<line x1="153.0" y1="508.0" x2="178.3" y2="508.0" stroke="#ff0000" stroke-width="2"/>
<line x1="826.9" y1="89.0" x2="1224.0" y2="89.0" stroke="#85004b" stroke-width="2"/>
<line x1="1045.3" y1="297.0" x2="1222.3" y2="297.0" stroke="#1b5e20" stroke-width="2"/>
</g>
<text x="266.28" y="86.40" font-size="18.8" fill="#85004b" font-weight="normal" textLength="64.30" lengthAdjust="spacingAndGlyphs" stroke="#85004b" stroke-width="0.55" stroke-linejoin="round">0.6700</text>
<text x="339.53" y="86.40" font-size="18.8" fill="#85004b" font-weight="normal" textLength="6.14" lengthAdjust="spacingAndGlyphs" stroke="#85004b" stroke-width="0.55" stroke-linejoin="round">-</text>
<text x="351.95" y="86.40" font-size="18.8" fill="#85004b" font-weight="normal" textLength="55.11" lengthAdjust="spacingAndGlyphs" stroke="#85004b" stroke-width="0.55" stroke-linejoin="round">76.4%</text>
<text x="413.39" y="86.40" font-size="18.8" fill="#85004b" font-weight="normal" textLength="26.95" lengthAdjust="spacingAndGlyphs" stroke="#85004b" stroke-width="0.55" stroke-linejoin="round">ret</text>
<text x="447.95" y="86.40" font-size="18.8" fill="#85004b" font-weight="normal" textLength="16.77" lengthAdjust="spacingAndGlyphs" stroke="#85004b" stroke-width="0.55" stroke-linejoin="round">of</text>
<text x="472.89" y="86.40" font-size="18.8" fill="#85004b" font-weight="normal" textLength="99.16" lengthAdjust="spacingAndGlyphs" stroke="#85004b" stroke-width="0.55" stroke-linejoin="round">2024-2025</text>
<text x="580.02" y="86.40" font-size="18.8" fill="#85004b" font-weight="normal" textLength="29.24" lengthAdjust="spacingAndGlyphs" stroke="#85004b" stroke-width="0.55" stroke-linejoin="round">fall</text>
<text x="663.86" y="63.90" font-size="19" fill="#000" font-weight="normal" textLength="81.97" lengthAdjust="spacingAndGlyphs" stroke="#000" stroke-width="0.55" stroke-linejoin="round">AUD/USD</text>
<text x="752.55" y="63.90" font-size="19" fill="#000" font-weight="normal" textLength="44.78" lengthAdjust="spacingAndGlyphs" stroke="#000" stroke-width="0.55" stroke-linejoin="round">Daily</text>
<text x="804.69" y="63.90" font-size="19" fill="#000" font-weight="normal" textLength="50.67" lengthAdjust="spacingAndGlyphs" stroke="#000" stroke-width="0.55" stroke-linejoin="round">Chart</text>
<text x="1106.07" y="64.40" font-size="19" fill="#000" font-weight="normal" textLength="29.29" lengthAdjust="spacingAndGlyphs" stroke="#000" stroke-width="0.55" stroke-linejoin="round">1-2</text>
<text x="1142.10" y="64.40" font-size="19" fill="#000" font-weight="normal" textLength="30.72" lengthAdjust="spacingAndGlyphs" stroke="#000" stroke-width="0.55" stroke-linejoin="round">day</text>
<text x="1181.65" y="64.40" font-size="19" fill="#000" font-weight="normal" textLength="42.36" lengthAdjust="spacingAndGlyphs" stroke="#000" stroke-width="0.55" stroke-linejoin="round">view</text>
<text x="752.67" y="95.50" font-size="18.8" fill="#85004b" font-weight="normal" textLength="65.02" lengthAdjust="spacingAndGlyphs" stroke="#85004b" stroke-width="0.55" stroke-linejoin="round">0.6700</text>
<text x="63.67" y="214.70" font-size="19" fill="#bf9000" font-weight="normal" textLength="46.86" lengthAdjust="spacingAndGlyphs" stroke="#bf9000" stroke-width="0.55" stroke-linejoin="round">233d</text>
<text x="117.23" y="214.70" font-size="19" fill="#bf9000" font-weight="normal" textLength="84.45" lengthAdjust="spacingAndGlyphs" stroke="#bf9000" stroke-width="0.55" stroke-linejoin="round">weighted</text>
<text x="206.78" y="214.70" font-size="19" fill="#bf9000" font-weight="normal" textLength="27.75" lengthAdjust="spacingAndGlyphs" stroke="#bf9000" stroke-width="0.55" stroke-linejoin="round">MA</text>
<text x="199.82" y="334.80" font-size="19" fill="#1f4e96" font-weight="normal" textLength="33.46" lengthAdjust="spacingAndGlyphs" stroke="#1f4e96" stroke-width="0.55" stroke-linejoin="round">21d</text>
<text x="240.83" y="334.80" font-size="19" fill="#1f4e96" font-weight="normal" textLength="85.36" lengthAdjust="spacingAndGlyphs" stroke="#1f4e96" stroke-width="0.55" stroke-linejoin="round">weighted</text>
<text x="331.64" y="334.80" font-size="19" fill="#1f4e96" font-weight="normal" textLength="26.80" lengthAdjust="spacingAndGlyphs" stroke="#1f4e96" stroke-width="0.55" stroke-linejoin="round">MA</text>
<text x="490.27" y="280.45" font-size="18.8" fill="#ff0000" font-weight="normal" textLength="65.64" lengthAdjust="spacingAndGlyphs" stroke="#ff0000" stroke-width="0.55" stroke-linejoin="round">0.6350</text>
<text x="181.38" y="513.35" font-size="18.8" fill="#ff0000" font-weight="normal" textLength="64.99" lengthAdjust="spacingAndGlyphs" stroke="#ff0000" stroke-width="0.55" stroke-linejoin="round">0.5913</text>
<text x="1165.57" y="233.40" font-size="18.8" fill="#ff0000" font-weight="normal" textLength="65.22" lengthAdjust="spacingAndGlyphs" stroke="#ff0000" stroke-width="0.55" stroke-linejoin="round">0.6440</text>
<text x="1165.57" y="254.40" font-size="18.8" fill="#ff0000" font-weight="normal" textLength="65.22" lengthAdjust="spacingAndGlyphs" stroke="#ff0000" stroke-width="0.55" stroke-linejoin="round">0.6400</text>
<text x="1189.47" y="199.30" font-size="18.8" fill="#ff0000" font-weight="normal" textLength="65.33" lengthAdjust="spacingAndGlyphs" stroke="#ff0000" stroke-width="0.55" stroke-linejoin="round">0.6500</text>
<text x="1220.51" y="149.30" font-size="24.5" fill="#ff0000" font-weight="normal" textLength="81.65" lengthAdjust="spacingAndGlyphs" stroke="#ff0000" stroke-width="0.65" stroke-linejoin="round">0.6600</text>
<text x="1220.51" y="176.20" font-size="24.5" fill="#ff0000" font-weight="normal" textLength="81.65" lengthAdjust="spacingAndGlyphs" stroke="#ff0000" stroke-width="0.65" stroke-linejoin="round">0.6550</text>
<text x="1225.07" y="302.40" font-size="18.8" fill="#1b5e20" font-weight="normal" textLength="65.74" lengthAdjust="spacingAndGlyphs" stroke="#1b5e20" stroke-width="0.55" stroke-linejoin="round">0.6310</text>
<text x="715.18" y="352.55" font-size="18.8" fill="#1b5e20" font-weight="normal" textLength="64.51" lengthAdjust="spacingAndGlyphs" stroke="#1b5e20" stroke-width="0.55" stroke-linejoin="round">0.6400</text>
<text x="787.16" y="352.55" font-size="18.8" fill="#1b5e20" font-weight="normal" textLength="5.87" lengthAdjust="spacingAndGlyphs" stroke="#1b5e20" stroke-width="0.55" stroke-linejoin="round">-</text>
<text x="801.15" y="352.55" font-size="18.8" fill="#1b5e20" font-weight="normal" textLength="54.60" lengthAdjust="spacingAndGlyphs" stroke="#1b5e20" stroke-width="0.55" stroke-linejoin="round">38.2%</text>
<text x="862.20" y="352.55" font-size="18.8" fill="#1b5e20" font-weight="normal" textLength="26.74" lengthAdjust="spacingAndGlyphs" stroke="#1b5e20" stroke-width="0.55" stroke-linejoin="round">ret</text>
<text x="896.25" y="352.55" font-size="18.8" fill="#1b5e20" font-weight="normal" textLength="16.87" lengthAdjust="spacingAndGlyphs" stroke="#1b5e20" stroke-width="0.55" stroke-linejoin="round">of</text>
<text x="922.26" y="352.55" font-size="18.8" fill="#1b5e20" font-weight="normal" textLength="71.12" lengthAdjust="spacingAndGlyphs" stroke="#1b5e20" stroke-width="0.55" stroke-linejoin="round">Apr-Sep</text>
<text x="1000.24" y="352.55" font-size="18.8" fill="#1b5e20" font-weight="normal" textLength="40.81" lengthAdjust="spacingAndGlyphs" stroke="#1b5e20" stroke-width="0.55" stroke-linejoin="round">rally</text>
<text x="715.18" y="372.55" font-size="18.8" fill="#1b5e20" font-weight="normal" textLength="64.51" lengthAdjust="spacingAndGlyphs" stroke="#1b5e20" stroke-width="0.55" stroke-linejoin="round">0.6310</text>
<text x="787.16" y="372.55" font-size="18.8" fill="#1b5e20" font-weight="normal" textLength="5.87" lengthAdjust="spacingAndGlyphs" stroke="#1b5e20" stroke-width="0.55" stroke-linejoin="round">-</text>
<text x="801.21" y="372.55" font-size="18.8" fill="#1b5e20" font-weight="normal" textLength="35.68" lengthAdjust="spacingAndGlyphs" stroke="#1b5e20" stroke-width="0.55" stroke-linejoin="round">50%</text>
<text x="843.10" y="372.55" font-size="18.8" fill="#1b5e20" font-weight="normal" textLength="26.74" lengthAdjust="spacingAndGlyphs" stroke="#1b5e20" stroke-width="0.55" stroke-linejoin="round">ret</text>
<text x="877.45" y="372.55" font-size="18.8" fill="#1b5e20" font-weight="normal" textLength="16.87" lengthAdjust="spacingAndGlyphs" stroke="#1b5e20" stroke-width="0.55" stroke-linejoin="round">of</text>
<text x="903.16" y="372.55" font-size="18.8" fill="#1b5e20" font-weight="normal" textLength="71.23" lengthAdjust="spacingAndGlyphs" stroke="#1b5e20" stroke-width="0.55" stroke-linejoin="round">Apr-Sep</text>
<text x="981.14" y="372.55" font-size="18.8" fill="#1b5e20" font-weight="normal" textLength="40.81" lengthAdjust="spacingAndGlyphs" stroke="#1b5e20" stroke-width="0.55" stroke-linejoin="round">rally</text>
<text x="715.18" y="392.60" font-size="18.8" fill="#1b5e20" font-weight="normal" textLength="64.58" lengthAdjust="spacingAndGlyphs" stroke="#1b5e20" stroke-width="0.55" stroke-linejoin="round">0.6215</text>
<text x="787.16" y="392.60" font-size="18.8" fill="#1b5e20" font-weight="normal" textLength="5.87" lengthAdjust="spacingAndGlyphs" stroke="#1b5e20" stroke-width="0.55" stroke-linejoin="round">-</text>
<text x="800.96" y="392.60" font-size="18.8" fill="#1b5e20" font-weight="normal" textLength="54.80" lengthAdjust="spacingAndGlyphs" stroke="#1b5e20" stroke-width="0.55" stroke-linejoin="round">61.8%</text>
<text x="862.20" y="392.60" font-size="18.8" fill="#1b5e20" font-weight="normal" textLength="26.74" lengthAdjust="spacingAndGlyphs" stroke="#1b5e20" stroke-width="0.55" stroke-linejoin="round">ret</text>
<text x="896.25" y="392.60" font-size="18.8" fill="#1b5e20" font-weight="normal" textLength="16.87" lengthAdjust="spacingAndGlyphs" stroke="#1b5e20" stroke-width="0.55" stroke-linejoin="round">of</text>
<text x="922.26" y="392.60" font-size="18.8" fill="#1b5e20" font-weight="normal" textLength="71.12" lengthAdjust="spacingAndGlyphs" stroke="#1b5e20" stroke-width="0.55" stroke-linejoin="round">Apr-Sep</text>
<text x="1000.24" y="392.60" font-size="18.8" fill="#1b5e20" font-weight="normal" textLength="40.81" lengthAdjust="spacingAndGlyphs" stroke="#1b5e20" stroke-width="0.55" stroke-linejoin="round">rally</text>
<text x="23.05" y="575.50" font-size="19" fill="#000" font-weight="normal" textLength="70.80" lengthAdjust="spacingAndGlyphs" stroke="#000" stroke-width="0.55" stroke-linejoin="round">Tension</text>
<text x="99.61" y="575.50" font-size="19" fill="#000" font-weight="normal" textLength="82.80" lengthAdjust="spacingAndGlyphs" stroke="#000" stroke-width="0.55" stroke-linejoin="round">Indicator</text>
<g clip-path="url(#cp)"><path d="M13.3 210.8 C15.5 211.4 21.7 213.1 26.7 214.2 C31.7 215.3 37.8 216.5 43.3 217.5 C48.8 218.5 54.4 219.1 60.0 220.0 C65.6 220.9 71.2 222.0 76.7 223.0 C82.2 224.0 87.8 224.9 93.3 225.8 C98.8 226.7 104.4 227.6 110.0 228.3 C115.6 229.1 122.5 229.5 126.7 230.3 C130.9 231.1 131.7 231.7 135.0 233.0 C138.3 234.3 142.5 236.6 146.7 238.0 C150.9 239.4 155.0 240.3 160.0 241.2 C165.0 242.1 171.1 242.6 176.7 243.3 C182.2 244.0 187.8 244.8 193.3 245.5 C198.9 246.2 204.4 246.7 210.0 247.2 C215.6 247.7 221.1 247.9 226.7 248.3 C232.2 248.7 238.3 249.2 243.3 249.5 C248.3 249.8 251.7 249.8 256.7 250.0 C261.7 250.2 267.8 250.5 273.3 250.8 C278.9 251.1 284.4 251.4 290.0 251.7 C295.6 252.0 301.1 252.2 306.7 252.5 C312.2 252.8 317.8 253.0 323.3 253.3 C328.9 253.6 334.4 254.3 340.0 254.5 C345.6 254.7 351.1 254.6 356.7 254.7 C362.2 254.8 367.8 254.9 373.3 255.0 C378.9 255.1 384.4 255.1 390.0 255.0 C395.6 254.9 400.9 254.7 406.7 254.5 C412.5 254.3 413.6 254.1 425.0 253.8 C436.4 253.5 460.4 253.2 475.0 252.5 C489.6 251.8 498.6 250.7 512.5 249.7 C526.4 248.7 542.3 247.6 558.3 246.7 C574.3 245.8 597.2 244.9 608.3 244.2 C619.4 243.5 616.4 242.8 625.0 242.5 C633.6 242.2 648.6 242.6 660.0 242.2 C671.4 241.8 680.8 240.7 693.3 240.0 C705.8 239.3 723.9 238.8 735.0 238.3 C746.1 237.8 750.3 237.9 760.0 237.2 C769.7 236.5 783.6 235.1 793.3 234.2 C803.0 233.3 810.0 232.8 818.3 231.7 C826.6 230.6 836.3 228.8 843.3 227.5 C850.2 226.2 853.0 225.3 860.0 224.2 C867.0 223.1 877.5 221.7 885.0 220.8 C892.5 219.9 899.2 219.6 905.0 218.8 C910.8 218.0 913.3 216.9 920.0 215.8 C926.7 214.8 936.7 213.3 945.0 212.5 C953.3 211.7 961.7 211.3 970.0 210.8 C978.3 210.3 986.7 210.2 995.0 209.7 C1003.3 209.2 1011.7 208.7 1020.0 208.0 C1028.3 207.3 1036.7 205.9 1045.0 205.3 C1053.3 204.7 1061.7 204.8 1070.0 204.2 C1078.3 203.6 1088.0 202.3 1095.0 201.7 C1102.0 201.1 1105.3 201.0 1111.7 200.8 C1118.1 200.6 1125.5 200.8 1133.3 200.5 C1141.1 200.2 1150.0 199.8 1158.3 199.2 C1166.6 198.6 1176.3 197.5 1183.3 196.7 C1190.2 195.9 1195.4 195.2 1200.0 194.5 C1204.6 193.8 1209.0 192.8 1210.8 192.5" fill="none" stroke="#bf9000" stroke-width="2.6" stroke-linejoin="round" stroke-linecap="round"/></g>
<polygon points="1262.20,74.97 1283.20,47.39 1280.90,45.63 1259.90,73.21" fill="#1b5e20" stroke="#1b5e20" stroke-width="3.8" stroke-linejoin="round"/>
<polygon points="1257.66,51.87 1282.89,48.30 1282.54,45.83 1257.31,49.40" fill="#1b5e20" stroke="#1b5e20" stroke-width="3.8" stroke-linejoin="round"/>
<polygon points="1279.99,46.06 1283.03,71.29 1285.91,70.94 1282.87,45.71" fill="#1b5e20" stroke="#1b5e20" stroke-width="3.8" stroke-linejoin="round"/>
<g clip-path="url(#cp)">
<line x1="13" y1="641.5" x2="1329" y2="641.5" stroke="#dfeaf2" stroke-width="1"/>
<line x1="13" y1="641.5" x2="1329" y2="641.5" stroke="#ff0000" stroke-width="1" stroke-dasharray="1 2"/>
<line x1="14.0" y1="641.5" x2="14.0" y2="640.4" stroke="rgba(255,0,0,0.72)" stroke-width="2"/>
<line x1="20.0" y1="641.5" x2="20.0" y2="640.1" stroke="rgba(255,0,0,0.72)" stroke-width="2"/>
<line x1="26.0" y1="641.5" x2="26.0" y2="639.4" stroke="rgba(255,0,0,0.72)" stroke-width="2"/>
<line x1="32.0" y1="641.5" x2="32.0" y2="637.9" stroke="rgba(255,0,0,0.72)" stroke-width="2"/>
<line x1="38.0" y1="641.5" x2="38.0" y2="636.3" stroke="rgba(255,0,0,0.72)" stroke-width="2"/>
<line x1="44.0" y1="641.5" x2="44.0" y2="634.8" stroke="rgba(255,0,0,0.72)" stroke-width="2"/>
<line x1="50.0" y1="641.5" x2="50.0" y2="629.7" stroke="rgba(255,0,0,0.72)" stroke-width="2"/>
<line x1="56.0" y1="641.5" x2="56.0" y2="624.3" stroke="rgba(255,0,0,0.72)" stroke-width="2"/>
<line x1="62.0" y1="641.5" x2="62.0" y2="622.9" stroke="rgba(255,0,0,0.72)" stroke-width="2"/>
<line x1="68.0" y1="641.5" x2="68.0" y2="624.1" stroke="rgba(255,0,0,0.72)" stroke-width="2"/>
<line x1="74.0" y1="641.5" x2="74.0" y2="628.0" stroke="rgba(255,0,0,0.72)" stroke-width="2"/>
<line x1="80.0" y1="641.5" x2="80.0" y2="632.5" stroke="rgba(255,0,0,0.72)" stroke-width="2"/>
<line x1="87.0" y1="641.5" x2="87.0" y2="634.6" stroke="rgba(255,0,0,0.72)" stroke-width="2"/>
<line x1="93.0" y1="641.5" x2="93.0" y2="636.4" stroke="rgba(255,0,0,0.72)" stroke-width="2"/>
<line x1="99.0" y1="641.5" x2="99.0" y2="638.2" stroke="rgba(255,0,0,0.72)" stroke-width="2"/>
<line x1="105.0" y1="641.5" x2="105.0" y2="640.9" stroke="rgba(255,0,0,0.72)" stroke-width="2"/>
<line x1="111.0" y1="641.5" x2="111.0" y2="644.7" stroke="rgba(255,0,0,0.72)" stroke-width="2"/>
<line x1="117.0" y1="641.5" x2="117.0" y2="648.9" stroke="rgba(255,0,0,0.72)" stroke-width="2"/>
<line x1="123.0" y1="641.5" x2="123.0" y2="647.8" stroke="rgba(255,0,0,0.72)" stroke-width="2"/>
<line x1="129.0" y1="641.5" x2="129.0" y2="647.8" stroke="rgba(255,0,0,0.72)" stroke-width="2"/>
<line x1="135.0" y1="641.5" x2="135.0" y2="653.0" stroke="rgba(255,0,0,0.72)" stroke-width="2"/>
<line x1="141.0" y1="641.5" x2="141.0" y2="669.0" stroke="rgba(255,0,0,0.72)" stroke-width="2"/>
<line x1="147.0" y1="641.5" x2="147.0" y2="686.7" stroke="rgba(255,0,0,0.72)" stroke-width="2"/>
<line x1="153.0" y1="641.5" x2="153.0" y2="696.2" stroke="rgba(255,0,0,0.72)" stroke-width="2"/>
<line x1="159.0" y1="641.5" x2="159.0" y2="690.9" stroke="rgba(255,0,0,0.72)" stroke-width="2"/>
<line x1="166.0" y1="641.5" x2="166.0" y2="679.0" stroke="rgba(255,0,0,0.72)" stroke-width="2"/>
<line x1="172.0" y1="641.5" x2="172.0" y2="663.2" stroke="rgba(255,0,0,0.72)" stroke-width="2"/>
<line x1="178.0" y1="641.5" x2="178.0" y2="646.2" stroke="rgba(255,0,0,0.72)" stroke-width="2"/>
<line x1="184.0" y1="641.5" x2="184.0" y2="628.4" stroke="rgba(255,0,0,0.72)" stroke-width="2"/>
<line x1="190.0" y1="641.5" x2="190.0" y2="612.5" stroke="rgba(255,0,0,0.72)" stroke-width="2"/>
<line x1="196.0" y1="641.5" x2="196.0" y2="598.1" stroke="rgba(255,0,0,0.72)" stroke-width="2"/>
<line x1="202.0" y1="641.5" x2="202.0" y2="584.1" stroke="rgba(255,0,0,0.72)" stroke-width="2"/>
<line x1="208.0" y1="641.5" x2="208.0" y2="573.7" stroke="rgba(255,0,0,0.72)" stroke-width="2"/>
<line x1="214.0" y1="641.5" x2="214.0" y2="567.9" stroke="rgba(255,0,0,0.72)" stroke-width="2"/>
<line x1="220.0" y1="641.5" x2="220.0" y2="567.0" stroke="rgba(255,0,0,0.72)" stroke-width="2"/>
<line x1="226.0" y1="641.5" x2="226.0" y2="566.6" stroke="rgba(255,0,0,0.72)" stroke-width="2"/>
<line x1="232.0" y1="641.5" x2="232.0" y2="566.8" stroke="rgba(255,0,0,0.72)" stroke-width="2"/>
<line x1="238.0" y1="641.5" x2="238.0" y2="568.0" stroke="rgba(255,0,0,0.72)" stroke-width="2"/>
<line x1="244.0" y1="641.5" x2="244.0" y2="571.0" stroke="rgba(255,0,0,0.72)" stroke-width="2"/>
<line x1="251.0" y1="641.5" x2="251.0" y2="573.5" stroke="rgba(255,0,0,0.72)" stroke-width="2"/>
<line x1="257.0" y1="641.5" x2="257.0" y2="573.8" stroke="rgba(255,0,0,0.72)" stroke-width="2"/>
<line x1="263.0" y1="641.5" x2="263.0" y2="571.9" stroke="rgba(255,0,0,0.72)" stroke-width="2"/>
<line x1="269.0" y1="641.5" x2="269.0" y2="570.2" stroke="rgba(255,0,0,0.72)" stroke-width="2"/>
<line x1="275.0" y1="641.5" x2="275.0" y2="568.5" stroke="rgba(255,0,0,0.72)" stroke-width="2"/>
<line x1="281.0" y1="641.5" x2="281.0" y2="572.6" stroke="rgba(255,0,0,0.72)" stroke-width="2"/>
<line x1="287.0" y1="641.5" x2="287.0" y2="577.7" stroke="rgba(255,0,0,0.72)" stroke-width="2"/>
<line x1="293.0" y1="641.5" x2="293.0" y2="582.4" stroke="rgba(255,0,0,0.72)" stroke-width="2"/>
<line x1="299.0" y1="641.5" x2="299.0" y2="585.5" stroke="rgba(255,0,0,0.72)" stroke-width="2"/>
<line x1="305.0" y1="641.5" x2="305.0" y2="586.1" stroke="rgba(255,0,0,0.72)" stroke-width="2"/>
<line x1="311.0" y1="641.5" x2="311.0" y2="590.1" stroke="rgba(255,0,0,0.72)" stroke-width="2"/>
<line x1="317.0" y1="641.5" x2="317.0" y2="594.3" stroke="rgba(255,0,0,0.72)" stroke-width="2"/>
<line x1="323.0" y1="641.5" x2="323.0" y2="597.3" stroke="rgba(255,0,0,0.72)" stroke-width="2"/>
<line x1="330.0" y1="641.5" x2="330.0" y2="600.5" stroke="rgba(255,0,0,0.72)" stroke-width="2"/>
<line x1="336.0" y1="641.5" x2="336.0" y2="602.3" stroke="rgba(255,0,0,0.72)" stroke-width="2"/>
<line x1="342.0" y1="641.5" x2="342.0" y2="604.0" stroke="rgba(255,0,0,0.72)" stroke-width="2"/>
<line x1="348.0" y1="641.5" x2="348.0" y2="605.8" stroke="rgba(255,0,0,0.72)" stroke-width="2"/>
<line x1="354.0" y1="641.5" x2="354.0" y2="602.4" stroke="rgba(255,0,0,0.72)" stroke-width="2"/>
<line x1="360.0" y1="641.5" x2="360.0" y2="605.8" stroke="rgba(255,0,0,0.72)" stroke-width="2"/>
<line x1="366.0" y1="641.5" x2="366.0" y2="612.8" stroke="rgba(255,0,0,0.72)" stroke-width="2"/>
<line x1="372.0" y1="641.5" x2="372.0" y2="618.8" stroke="rgba(255,0,0,0.72)" stroke-width="2"/>
<line x1="378.0" y1="641.5" x2="378.0" y2="623.5" stroke="rgba(255,0,0,0.72)" stroke-width="2"/>
<line x1="384.0" y1="641.5" x2="384.0" y2="625.4" stroke="rgba(255,0,0,0.72)" stroke-width="2"/>
<line x1="390.0" y1="641.5" x2="390.0" y2="626.5" stroke="rgba(255,0,0,0.72)" stroke-width="2"/>
<line x1="396.0" y1="641.5" x2="396.0" y2="626.7" stroke="rgba(255,0,0,0.72)" stroke-width="2"/>
<line x1="402.0" y1="641.5" x2="402.0" y2="624.2" stroke="rgba(255,0,0,0.72)" stroke-width="2"/>
<line x1="408.0" y1="641.5" x2="408.0" y2="622.1" stroke="rgba(255,0,0,0.72)" stroke-width="2"/>
<line x1="415.0" y1="641.5" x2="415.0" y2="619.9" stroke="rgba(255,0,0,0.72)" stroke-width="2"/>
<line x1="421.0" y1="641.5" x2="421.0" y2="617.7" stroke="rgba(255,0,0,0.72)" stroke-width="2"/>
<line x1="427.0" y1="641.5" x2="427.0" y2="615.3" stroke="rgba(255,0,0,0.72)" stroke-width="2"/>
<line x1="433.0" y1="641.5" x2="433.0" y2="615.0" stroke="rgba(255,0,0,0.72)" stroke-width="2"/>
<line x1="439.0" y1="641.5" x2="439.0" y2="615.4" stroke="rgba(255,0,0,0.72)" stroke-width="2"/>
<line x1="445.0" y1="641.5" x2="445.0" y2="616.6" stroke="rgba(255,0,0,0.72)" stroke-width="2"/>
<line x1="451.0" y1="641.5" x2="451.0" y2="618.3" stroke="rgba(255,0,0,0.72)" stroke-width="2"/>
<line x1="457.0" y1="641.5" x2="457.0" y2="620.4" stroke="rgba(255,0,0,0.72)" stroke-width="2"/>
<line x1="463.0" y1="641.5" x2="463.0" y2="623.4" stroke="rgba(255,0,0,0.72)" stroke-width="2"/>
<line x1="469.0" y1="641.5" x2="469.0" y2="627.8" stroke="rgba(255,0,0,0.72)" stroke-width="2"/>
<line x1="475.0" y1="641.5" x2="475.0" y2="634.8" stroke="rgba(255,0,0,0.72)" stroke-width="2"/>
<line x1="481.0" y1="641.5" x2="481.0" y2="636.7" stroke="rgba(255,0,0,0.72)" stroke-width="2"/>
<line x1="487.0" y1="641.5" x2="487.0" y2="635.6" stroke="rgba(255,0,0,0.72)" stroke-width="2"/>
<line x1="494.0" y1="641.5" x2="494.0" y2="632.6" stroke="rgba(255,0,0,0.72)" stroke-width="2"/>
<line x1="500.0" y1="641.5" x2="500.0" y2="629.4" stroke="rgba(255,0,0,0.72)" stroke-width="2"/>
<line x1="506.0" y1="641.5" x2="506.0" y2="624.9" stroke="rgba(255,0,0,0.72)" stroke-width="2"/>
<line x1="512.0" y1="641.5" x2="512.0" y2="620.7" stroke="rgba(255,0,0,0.72)" stroke-width="2"/>
<line x1="518.0" y1="641.5" x2="518.0" y2="617.2" stroke="rgba(255,0,0,0.72)" stroke-width="2"/>
<line x1="524.0" y1="641.5" x2="524.0" y2="614.8" stroke="rgba(255,0,0,0.72)" stroke-width="2"/>
<line x1="530.0" y1="641.5" x2="530.0" y2="612.8" stroke="rgba(255,0,0,0.72)" stroke-width="2"/>
<line x1="536.0" y1="641.5" x2="536.0" y2="616.0" stroke="rgba(255,0,0,0.72)" stroke-width="2"/>
<line x1="542.0" y1="641.5" x2="542.0" y2="619.1" stroke="rgba(255,0,0,0.72)" stroke-width="2"/>
<line x1="548.0" y1="641.5" x2="548.0" y2="621.0" stroke="rgba(255,0,0,0.72)" stroke-width="2"/>
<line x1="554.0" y1="641.5" x2="554.0" y2="621.4" stroke="rgba(255,0,0,0.72)" stroke-width="2"/>
<line x1="560.0" y1="641.5" x2="560.0" y2="621.6" stroke="rgba(255,0,0,0.72)" stroke-width="2"/>
<line x1="566.0" y1="641.5" x2="566.0" y2="621.9" stroke="rgba(255,0,0,0.72)" stroke-width="2"/>
<line x1="572.0" y1="641.5" x2="572.0" y2="623.7" stroke="rgba(255,0,0,0.72)" stroke-width="2"/>
<line x1="579.0" y1="641.5" x2="579.0" y2="626.8" stroke="rgba(255,0,0,0.72)" stroke-width="2"/>
<line x1="585.0" y1="641.5" x2="585.0" y2="632.5" stroke="rgba(255,0,0,0.72)" stroke-width="2"/>
<line x1="591.0" y1="641.5" x2="591.0" y2="635.1" stroke="rgba(255,0,0,0.72)" stroke-width="2"/>
<line x1="597.0" y1="641.5" x2="597.0" y2="636.4" stroke="rgba(255,0,0,0.72)" stroke-width="2"/>
<line x1="603.0" y1="641.5" x2="603.0" y2="636.8" stroke="rgba(255,0,0,0.72)" stroke-width="2"/>
<line x1="609.0" y1="641.5" x2="609.0" y2="633.8" stroke="rgba(255,0,0,0.72)" stroke-width="2"/>
<line x1="615.0" y1="641.5" x2="615.0" y2="629.2" stroke="rgba(255,0,0,0.72)" stroke-width="2"/>
<line x1="621.0" y1="641.5" x2="621.0" y2="627.7" stroke="rgba(255,0,0,0.72)" stroke-width="2"/>
<line x1="627.0" y1="641.5" x2="627.0" y2="628.1" stroke="rgba(255,0,0,0.72)" stroke-width="2"/>
<line x1="633.0" y1="641.5" x2="633.0" y2="630.0" stroke="rgba(255,0,0,0.72)" stroke-width="2"/>
<line x1="639.0" y1="641.5" x2="639.0" y2="636.0" stroke="rgba(255,0,0,0.72)" stroke-width="2"/>
<line x1="645.0" y1="641.5" x2="645.0" y2="642.8" stroke="rgba(255,0,0,0.72)" stroke-width="2"/>
<line x1="651.0" y1="641.5" x2="651.0" y2="649.8" stroke="rgba(255,0,0,0.72)" stroke-width="2"/>
<line x1="658.0" y1="641.5" x2="658.0" y2="654.7" stroke="rgba(255,0,0,0.72)" stroke-width="2"/>
<line x1="664.0" y1="641.5" x2="664.0" y2="658.3" stroke="rgba(255,0,0,0.72)" stroke-width="2"/>
<line x1="670.0" y1="641.5" x2="670.0" y2="658.9" stroke="rgba(255,0,0,0.72)" stroke-width="2"/>
<line x1="676.0" y1="641.5" x2="676.0" y2="656.5" stroke="rgba(255,0,0,0.72)" stroke-width="2"/>
<line x1="682.0" y1="641.5" x2="682.0" y2="654.0" stroke="rgba(255,0,0,0.72)" stroke-width="2"/>
<line x1="688.0" y1="641.5" x2="688.0" y2="651.0" stroke="rgba(255,0,0,0.72)" stroke-width="2"/>
<line x1="694.0" y1="641.5" x2="694.0" y2="647.7" stroke="rgba(255,0,0,0.72)" stroke-width="2"/>
<line x1="700.0" y1="641.5" x2="700.0" y2="643.6" stroke="rgba(255,0,0,0.72)" stroke-width="2"/>
<line x1="706.0" y1="641.5" x2="706.0" y2="641.7" stroke="rgba(255,0,0,0.72)" stroke-width="2"/>
<line x1="712.0" y1="641.5" x2="712.0" y2="640.5" stroke="rgba(255,0,0,0.72)" stroke-width="2"/>
<line x1="718.0" y1="641.5" x2="718.0" y2="641.8" stroke="rgba(255,0,0,0.72)" stroke-width="2"/>
<line x1="724.0" y1="641.5" x2="724.0" y2="643.5" stroke="rgba(255,0,0,0.72)" stroke-width="2"/>
<line x1="730.0" y1="641.5" x2="730.0" y2="649.3" stroke="rgba(255,0,0,0.72)" stroke-width="2"/>
<line x1="736.0" y1="641.5" x2="736.0" y2="655.6" stroke="rgba(255,0,0,0.72)" stroke-width="2"/>
<line x1="743.0" y1="641.5" x2="743.0" y2="658.0" stroke="rgba(255,0,0,0.72)" stroke-width="2"/>
<line x1="749.0" y1="641.5" x2="749.0" y2="656.5" stroke="rgba(255,0,0,0.72)" stroke-width="2"/>
<line x1="755.0" y1="641.5" x2="755.0" y2="655.4" stroke="rgba(255,0,0,0.72)" stroke-width="2"/>
<line x1="761.0" y1="641.5" x2="761.0" y2="654.7" stroke="rgba(255,0,0,0.72)" stroke-width="2"/>
<line x1="767.0" y1="641.5" x2="767.0" y2="650.5" stroke="rgba(255,0,0,0.72)" stroke-width="2"/>
<line x1="773.0" y1="641.5" x2="773.0" y2="645.1" stroke="rgba(255,0,0,0.72)" stroke-width="2"/>
<line x1="779.0" y1="641.5" x2="779.0" y2="638.3" stroke="rgba(255,0,0,0.72)" stroke-width="2"/>
<line x1="785.0" y1="641.5" x2="785.0" y2="635.0" stroke="rgba(255,0,0,0.72)" stroke-width="2"/>
<line x1="791.0" y1="641.5" x2="791.0" y2="632.0" stroke="rgba(255,0,0,0.72)" stroke-width="2"/>
<line x1="797.0" y1="641.5" x2="797.0" y2="629.7" stroke="rgba(255,0,0,0.72)" stroke-width="2"/>
<line x1="803.0" y1="641.5" x2="803.0" y2="626.9" stroke="rgba(255,0,0,0.72)" stroke-width="2"/>
<line x1="809.0" y1="641.5" x2="809.0" y2="623.6" stroke="rgba(255,0,0,0.72)" stroke-width="2"/>
<line x1="815.0" y1="641.5" x2="815.0" y2="619.1" stroke="rgba(255,0,0,0.72)" stroke-width="2"/>
<line x1="822.0" y1="641.5" x2="822.0" y2="613.9" stroke="rgba(255,0,0,0.72)" stroke-width="2"/>
<line x1="828.0" y1="641.5" x2="828.0" y2="609.4" stroke="rgba(255,0,0,0.72)" stroke-width="2"/>
<line x1="834.0" y1="641.5" x2="834.0" y2="604.3" stroke="rgba(255,0,0,0.72)" stroke-width="2"/>
<line x1="840.0" y1="641.5" x2="840.0" y2="599.1" stroke="rgba(255,0,0,0.72)" stroke-width="2"/>
<line x1="846.0" y1="641.5" x2="846.0" y2="593.2" stroke="rgba(255,0,0,0.72)" stroke-width="2"/>
<line x1="852.0" y1="641.5" x2="852.0" y2="590.2" stroke="rgba(255,0,0,0.72)" stroke-width="2"/>
<line x1="858.0" y1="641.5" x2="858.0" y2="592.3" stroke="rgba(255,0,0,0.72)" stroke-width="2"/>
<line x1="864.0" y1="641.5" x2="864.0" y2="597.2" stroke="rgba(255,0,0,0.72)" stroke-width="2"/>
<line x1="870.0" y1="641.5" x2="870.0" y2="603.9" stroke="rgba(255,0,0,0.72)" stroke-width="2"/>
<line x1="876.0" y1="641.5" x2="876.0" y2="608.7" stroke="rgba(255,0,0,0.72)" stroke-width="2"/>
<line x1="882.0" y1="641.5" x2="882.0" y2="613.8" stroke="rgba(255,0,0,0.72)" stroke-width="2"/>
<line x1="888.0" y1="641.5" x2="888.0" y2="622.8" stroke="rgba(255,0,0,0.72)" stroke-width="2"/>
<line x1="894.0" y1="641.5" x2="894.0" y2="630.9" stroke="rgba(255,0,0,0.72)" stroke-width="2"/>
<line x1="900.0" y1="641.5" x2="900.0" y2="636.6" stroke="rgba(255,0,0,0.72)" stroke-width="2"/>
<line x1="907.0" y1="641.5" x2="907.0" y2="638.7" stroke="rgba(255,0,0,0.72)" stroke-width="2"/>
<line x1="913.0" y1="641.5" x2="913.0" y2="639.1" stroke="rgba(255,0,0,0.72)" stroke-width="2"/>
<line x1="919.0" y1="641.5" x2="919.0" y2="638.8" stroke="rgba(255,0,0,0.72)" stroke-width="2"/>
<line x1="925.0" y1="641.5" x2="925.0" y2="638.4" stroke="rgba(255,0,0,0.72)" stroke-width="2"/>
<line x1="931.0" y1="641.5" x2="931.0" y2="637.9" stroke="rgba(255,0,0,0.72)" stroke-width="2"/>
<line x1="937.0" y1="641.5" x2="937.0" y2="637.4" stroke="rgba(255,0,0,0.72)" stroke-width="2"/>
<line x1="943.0" y1="641.5" x2="943.0" y2="639.1" stroke="rgba(255,0,0,0.72)" stroke-width="2"/>
<line x1="949.0" y1="641.5" x2="949.0" y2="641.4" stroke="rgba(255,0,0,0.72)" stroke-width="2"/>
<line x1="955.0" y1="641.5" x2="955.0" y2="647.4" stroke="rgba(255,0,0,0.72)" stroke-width="2"/>
<line x1="961.0" y1="641.5" x2="961.0" y2="653.8" stroke="rgba(255,0,0,0.72)" stroke-width="2"/>
<line x1="967.0" y1="641.5" x2="967.0" y2="661.6" stroke="rgba(255,0,0,0.72)" stroke-width="2"/>
<line x1="973.0" y1="641.5" x2="973.0" y2="665.4" stroke="rgba(255,0,0,0.72)" stroke-width="2"/>
<line x1="979.0" y1="641.5" x2="979.0" y2="669.3" stroke="rgba(255,0,0,0.72)" stroke-width="2"/>
<line x1="986.0" y1="641.5" x2="986.0" y2="673.7" stroke="rgba(255,0,0,0.72)" stroke-width="2"/>
<line x1="992.0" y1="641.5" x2="992.0" y2="673.7" stroke="rgba(255,0,0,0.72)" stroke-width="2"/>
<line x1="998.0" y1="641.5" x2="998.0" y2="673.7" stroke="rgba(255,0,0,0.72)" stroke-width="2"/>
<line x1="1004.0" y1="641.5" x2="1004.0" y2="672.3" stroke="rgba(255,0,0,0.72)" stroke-width="2"/>
<line x1="1010.0" y1="641.5" x2="1010.0" y2="670.7" stroke="rgba(255,0,0,0.72)" stroke-width="2"/>
<line x1="1016.0" y1="641.5" x2="1016.0" y2="666.2" stroke="rgba(255,0,0,0.72)" stroke-width="2"/>
<line x1="1022.0" y1="641.5" x2="1022.0" y2="660.3" stroke="rgba(255,0,0,0.72)" stroke-width="2"/>
<line x1="1028.0" y1="641.5" x2="1028.0" y2="652.8" stroke="rgba(255,0,0,0.72)" stroke-width="2"/>
<line x1="1034.0" y1="641.5" x2="1034.0" y2="646.8" stroke="rgba(255,0,0,0.72)" stroke-width="2"/>
<line x1="1040.0" y1="641.5" x2="1040.0" y2="641.9" stroke="rgba(255,0,0,0.72)" stroke-width="2"/>
<line x1="1046.0" y1="641.5" x2="1046.0" y2="638.9" stroke="rgba(255,0,0,0.72)" stroke-width="2"/>
<line x1="1052.0" y1="641.5" x2="1052.0" y2="637.9" stroke="rgba(255,0,0,0.72)" stroke-width="2"/>
<line x1="1058.0" y1="641.5" x2="1058.0" y2="640.5" stroke="rgba(255,0,0,0.72)" stroke-width="2"/>
<line x1="1064.0" y1="641.5" x2="1064.0" y2="643.5" stroke="rgba(255,0,0,0.72)" stroke-width="2"/>
<line x1="1071.0" y1="641.5" x2="1071.0" y2="647.0" stroke="rgba(255,0,0,0.72)" stroke-width="2"/>
<line x1="1077.0" y1="641.5" x2="1077.0" y2="650.0" stroke="rgba(255,0,0,0.72)" stroke-width="2"/>
<line x1="1083.0" y1="641.5" x2="1083.0" y2="650.0" stroke="rgba(255,0,0,0.72)" stroke-width="2"/>
<line x1="1089.0" y1="641.5" x2="1089.0" y2="649.1" stroke="rgba(255,0,0,0.72)" stroke-width="2"/>
<line x1="1095.0" y1="641.5" x2="1095.0" y2="647.3" stroke="rgba(255,0,0,0.72)" stroke-width="2"/>
<line x1="1101.0" y1="641.5" x2="1101.0" y2="644.9" stroke="rgba(255,0,0,0.72)" stroke-width="2"/>
<line x1="1107.0" y1="641.5" x2="1107.0" y2="643.3" stroke="rgba(255,0,0,0.72)" stroke-width="2"/>
<line x1="1113.0" y1="641.5" x2="1113.0" y2="642.7" stroke="rgba(255,0,0,0.72)" stroke-width="2"/>
<line x1="1119.0" y1="641.5" x2="1119.0" y2="643.5" stroke="rgba(255,0,0,0.72)" stroke-width="2"/>
<line x1="1125.0" y1="641.5" x2="1125.0" y2="645.2" stroke="rgba(255,0,0,0.72)" stroke-width="2"/>
<line x1="1131.0" y1="641.5" x2="1131.0" y2="648.6" stroke="rgba(255,0,0,0.72)" stroke-width="2"/>
<line x1="1137.0" y1="641.5" x2="1137.0" y2="653.5" stroke="rgba(255,0,0,0.72)" stroke-width="2"/>
<line x1="1143.0" y1="641.5" x2="1143.0" y2="656.9" stroke="rgba(255,0,0,0.72)" stroke-width="2"/>
<line x1="1149.0" y1="641.5" x2="1149.0" y2="659.6" stroke="rgba(255,0,0,0.72)" stroke-width="2"/>
<line x1="1156.0" y1="641.5" x2="1156.0" y2="658.8" stroke="rgba(255,0,0,0.72)" stroke-width="2"/>
<line x1="1162.0" y1="641.5" x2="1162.0" y2="654.3" stroke="rgba(255,0,0,0.72)" stroke-width="2"/>
<line x1="1168.0" y1="641.5" x2="1168.0" y2="649.3" stroke="rgba(255,0,0,0.72)" stroke-width="2"/>
<line x1="1174.0" y1="641.5" x2="1174.0" y2="644.0" stroke="rgba(255,0,0,0.72)" stroke-width="2"/>
<line x1="1180.0" y1="641.5" x2="1180.0" y2="638.0" stroke="rgba(255,0,0,0.72)" stroke-width="2"/>
<line x1="1186.0" y1="641.5" x2="1186.0" y2="630.3" stroke="rgba(255,0,0,0.72)" stroke-width="2"/>
<line x1="1192.0" y1="641.5" x2="1192.0" y2="621.2" stroke="rgba(255,0,0,0.72)" stroke-width="2"/>
<line x1="1198.0" y1="641.5" x2="1198.0" y2="614.2" stroke="rgba(255,0,0,0.72)" stroke-width="2"/>
<line x1="1204.0" y1="641.5" x2="1204.0" y2="608.2" stroke="rgba(255,0,0,0.72)" stroke-width="2"/>
<line x1="1210.0" y1="641.5" x2="1210.0" y2="603.9" stroke="rgba(255,0,0,0.72)" stroke-width="2"/>
<path d="M14.0 640.4 L20.0 640.1 L26.0 639.4 L32.0 637.9 L38.0 636.3 L44.0 634.8 L50.0 629.7 L56.0 624.3 L62.0 622.9 L68.0 624.1 L74.0 628.0 L80.0 632.5 L87.0 634.6 L93.0 636.4 L99.0 638.2 L105.0 640.9 L111.0 644.7 L117.0 648.9 L123.0 647.8 L129.0 647.8 L135.0 653.0 L141.0 669.0 L147.0 686.7 L153.0 696.2 L159.0 690.9 L166.0 679.0 L172.0 663.2 L178.0 646.2 L184.0 628.4 L190.0 612.5 L196.0 598.1 L202.0 584.1 L208.0 573.7 L214.0 567.9 L220.0 567.0 L226.0 566.6 L232.0 566.8 L238.0 568.0 L244.0 571.0 L251.0 573.5 L257.0 573.8 L263.0 571.9 L269.0 570.2 L275.0 568.5 L281.0 572.6 L287.0 577.7 L293.0 582.4 L299.0 585.5 L305.0 586.1 L311.0 590.1 L317.0 594.3 L323.0 597.3 L330.0 600.5 L336.0 602.3 L342.0 604.0 L348.0 605.8 L354.0 602.4 L360.0 605.8 L366.0 612.8 L372.0 618.8 L378.0 623.5 L384.0 625.4 L390.0 626.5 L396.0 626.7 L402.0 624.2 L408.0 622.1 L415.0 619.9 L421.0 617.7 L427.0 615.3 L433.0 615.0 L439.0 615.4 L445.0 616.6 L451.0 618.3 L457.0 620.4 L463.0 623.4 L469.0 627.8 L475.0 634.8 L481.0 636.7 L487.0 635.6 L494.0 632.6 L500.0 629.4 L506.0 624.9 L512.0 620.7 L518.0 617.2 L524.0 614.8 L530.0 612.8 L536.0 616.0 L542.0 619.1 L548.0 621.0 L554.0 621.4 L560.0 621.6 L566.0 621.9 L572.0 623.7 L579.0 626.8 L585.0 632.5 L591.0 635.1 L597.0 636.4 L603.0 636.8 L609.0 633.8 L615.0 629.2 L621.0 627.7 L627.0 628.1 L633.0 630.0 L639.0 636.0 L645.0 642.8 L651.0 649.8 L658.0 654.7 L664.0 658.3 L670.0 658.9 L676.0 656.5 L682.0 654.0 L688.0 651.0 L694.0 647.7 L700.0 643.6 L706.0 641.7 L712.0 640.5 L718.0 641.8 L724.0 643.5 L730.0 649.3 L736.0 655.6 L743.0 658.0 L749.0 656.5 L755.0 655.4 L761.0 654.7 L767.0 650.5 L773.0 645.1 L779.0 638.3 L785.0 635.0 L791.0 632.0 L797.0 629.7 L803.0 626.9 L809.0 623.6 L815.0 619.1 L822.0 613.9 L828.0 609.4 L834.0 604.3 L840.0 599.1 L846.0 593.2 L852.0 590.2 L858.0 592.3 L864.0 597.2 L870.0 603.9 L876.0 608.7 L882.0 613.8 L888.0 622.8 L894.0 630.9 L900.0 636.6 L907.0 638.7 L913.0 639.1 L919.0 638.8 L925.0 638.4 L931.0 637.9 L937.0 637.4 L943.0 639.1 L949.0 641.4 L955.0 647.4 L961.0 653.8 L967.0 661.6 L973.0 665.4 L979.0 669.3 L986.0 673.7 L992.0 673.7 L998.0 673.7 L1004.0 672.3 L1010.0 670.7 L1016.0 666.2 L1022.0 660.3 L1028.0 652.8 L1034.0 646.8 L1040.0 641.9 L1046.0 638.9 L1052.0 637.9 L1058.0 640.5 L1064.0 643.5 L1071.0 647.0 L1077.0 650.0 L1083.0 650.0 L1089.0 649.1 L1095.0 647.3 L1101.0 644.9 L1107.0 643.3 L1113.0 642.7 L1119.0 643.5 L1125.0 645.2 L1131.0 648.6 L1137.0 653.5 L1143.0 656.9 L1149.0 659.6 L1156.0 658.8 L1162.0 654.3 L1168.0 649.3 L1174.0 644.0 L1180.0 638.0 L1186.0 630.3 L1192.0 621.2 L1198.0 614.2 L1204.0 608.2 L1210.0 603.9" fill="none" stroke="rgba(255,0,0,0.72)" stroke-width="2" stroke-linejoin="round"/>
<path d="M13.5 641.0 C15.2 640.9 20.5 640.8 23.8 640.4 C27.1 640.0 29.6 639.2 33.1 638.5 C36.6 637.8 40.8 637.6 44.6 636.2 C48.4 634.8 52.6 631.8 56.1 630.0 C59.6 628.2 62.3 626.2 65.4 625.4 C68.5 624.6 71.1 624.6 74.6 625.4 C78.0 626.2 81.5 628.1 86.1 630.0 C90.7 631.9 97.7 634.6 102.3 636.9 C106.9 639.2 110.3 642.1 113.8 643.8 C117.2 645.4 120.3 646.3 123.0 646.8 C125.7 647.3 127.9 646.3 130.0 646.8 C132.1 647.3 133.8 647.8 135.7 649.6 C137.6 651.4 139.4 653.9 141.5 657.7 C143.6 661.5 146.1 668.4 148.4 672.6 C150.7 676.8 153.4 680.7 155.3 683.0 C157.2 685.3 158.3 686.0 160.0 686.5 C161.7 687.0 163.8 687.0 165.7 686.0 C167.6 685.0 169.4 683.7 171.5 680.7 C173.6 677.7 176.1 673.2 178.4 668.0 C180.7 662.8 182.6 657.3 185.3 649.6 C188.0 641.9 191.4 630.4 194.5 621.9 C197.6 613.4 200.7 605.5 203.8 598.8 C206.9 592.1 209.9 586.1 213.0 581.5 C216.1 576.9 219.1 573.4 222.2 571.1 C225.3 568.8 228.4 568.3 231.5 567.7 C234.6 567.1 237.6 567.2 240.7 567.7 C243.8 568.2 246.8 569.9 249.9 570.7 C253.0 571.5 256.0 572.2 259.1 572.3 C262.2 572.4 265.3 571.4 268.4 571.1 C271.5 570.8 274.5 570.3 277.6 570.7 C280.7 571.1 283.3 572.0 286.8 573.5 C290.3 575.0 294.5 577.9 298.4 579.9 C302.2 581.9 306.1 583.4 309.9 585.4 C313.7 587.4 317.5 589.8 321.4 591.9 C325.2 594.0 329.1 596.0 333.0 597.7 C336.9 599.4 341.8 601.4 344.5 602.3 C347.2 603.2 346.5 602.6 349.2 603.0 C351.9 603.4 356.9 603.2 360.8 604.6 C364.7 606.0 368.5 609.0 372.3 611.5 C376.1 614.0 380.0 617.4 383.8 619.6 C387.6 621.8 391.2 624.0 395.4 624.7 C399.6 625.4 405.0 624.6 409.2 623.8 C413.4 623.0 416.8 621.3 420.7 620.1 C424.6 618.9 428.4 617.3 432.3 616.6 C436.2 615.9 440.0 615.6 443.8 615.7 C447.6 615.8 451.5 616.3 455.3 617.3 C459.1 618.3 463.0 619.8 466.9 621.9 C470.8 624.0 474.9 628.0 478.4 630.0 C481.8 632.0 484.1 633.5 487.6 633.9 C491.1 634.3 495.4 633.6 499.2 632.3 C503.0 631.0 506.9 628.3 510.7 626.1 C514.5 623.9 518.7 621.0 522.2 619.1 C525.7 617.2 528.0 615.5 531.5 615.0 C535.0 614.5 539.2 615.3 543.0 616.1 C546.8 616.9 550.6 618.8 554.5 619.6 C558.4 620.4 562.2 620.2 566.1 620.8 C570.0 621.4 573.8 621.6 577.6 623.1 C581.4 624.6 584.9 628.0 589.1 630.0 C593.3 632.0 599.1 634.6 603.0 635.3 C606.9 635.9 608.8 634.9 612.2 633.9 C615.7 632.9 619.9 630.2 623.7 629.5 C627.6 628.8 631.8 628.6 635.3 629.5 C638.8 630.4 641.0 632.0 644.5 634.6 C648.0 637.2 653.4 642.6 656.0 645.0 C658.6 647.4 657.8 647.0 660.0 648.8 C662.2 650.6 665.7 654.4 669.2 655.7 C672.7 657.1 676.9 657.3 680.8 656.9 C684.6 656.5 688.5 655.1 692.3 653.4 C696.1 651.7 699.9 648.4 703.8 646.5 C707.6 644.6 711.5 642.4 715.4 641.9 C719.2 641.4 723.1 642.0 726.9 643.7 C730.7 645.4 734.5 650.3 738.4 652.3 C742.2 654.3 746.1 655.2 750.0 655.7 C753.9 656.2 757.7 656.2 761.5 655.3 C765.3 654.3 769.1 652.4 773.0 650.0 C776.9 647.6 780.8 643.6 784.6 640.7 C788.5 637.8 791.9 635.2 796.1 632.7 C800.3 630.2 805.7 628.1 809.9 625.7 C814.1 623.3 817.3 621.3 821.5 618.4 C825.7 615.5 831.1 611.8 835.3 608.4 C839.5 605.0 843.4 600.5 846.9 598.1 C850.4 595.7 853.0 594.4 856.1 593.9 C859.2 593.4 862.2 594.1 865.3 595.3 C868.4 596.4 871.4 598.5 874.5 600.8 C877.6 603.1 880.7 605.7 883.8 609.1 C886.9 612.5 889.9 617.6 893.0 621.1 C896.1 624.6 899.1 627.9 902.2 630.4 C905.3 632.9 908.3 634.8 911.4 636.1 C914.5 637.4 916.5 638.1 920.7 638.4 C924.9 638.7 931.8 637.4 936.8 637.7 C941.8 638.0 946.5 638.5 950.7 640.0 C954.9 641.5 958.4 643.3 962.2 646.5 C966.0 649.7 970.7 656.4 973.7 659.2 C976.7 662.0 977.4 661.7 980.0 663.4 C982.6 665.1 985.7 668.1 989.2 669.6 C992.7 671.1 996.9 672.3 1000.8 672.6 C1004.6 672.9 1008.5 672.5 1012.3 671.4 C1016.1 670.3 1019.9 668.7 1023.8 666.1 C1027.7 663.5 1031.6 659.4 1035.4 655.7 C1039.2 652.1 1043.5 647.0 1046.9 644.2 C1050.4 641.4 1052.6 639.6 1056.1 639.1 C1059.6 638.6 1063.8 640.0 1067.7 641.2 C1071.6 642.4 1075.4 645.2 1079.2 646.5 C1083.0 647.8 1086.9 648.9 1090.7 648.8 C1094.5 648.7 1098.5 647.0 1102.3 646.1 C1106.1 645.2 1110.0 643.8 1113.8 643.7 C1117.6 643.6 1121.4 644.2 1125.3 645.4 C1129.2 646.6 1133.1 649.2 1136.9 651.1 C1140.8 653.0 1145.1 655.8 1148.4 656.9 C1151.7 658.0 1153.4 658.1 1156.5 657.6 C1159.6 657.1 1163.6 655.8 1166.9 654.1 C1170.2 652.5 1173.0 650.2 1176.1 647.7 C1179.2 645.2 1182.2 642.6 1185.3 639.1 C1188.4 635.6 1191.4 630.5 1194.5 626.9 C1197.6 623.3 1201.1 620.3 1203.8 617.7 C1206.5 615.1 1209.5 612.3 1210.7 611.2" fill="none" stroke="rgba(20,20,255,0.78)" stroke-width="2.3" stroke-linejoin="round"/>
</g>
<rect x="1329" y="34" width="1" height="516" fill="#4f5260"/><rect x="1329" y="551" width="1" height="213" fill="#4f5260"/>
<rect x="14" y="710" width="1446" height="1" fill="#4f5260"/>
<text x="98.52" y="742.50" font-size="25" fill="#131722" font-weight="normal" textLength="37.87" lengthAdjust="spacingAndGlyphs" stroke="#131722" stroke-width="0.3" stroke-linejoin="round">Apr</text>
<text x="227.33" y="742.50" font-size="25" fill="#131722" font-weight="normal" textLength="44.73" lengthAdjust="spacingAndGlyphs" stroke="#131722" stroke-width="0.3" stroke-linejoin="round">May</text>
<text x="364.38" y="742.50" font-size="25" fill="#131722" font-weight="normal" textLength="40.36" lengthAdjust="spacingAndGlyphs" stroke="#131722" stroke-width="0.3" stroke-linejoin="round">Jun</text>
<text x="495.47" y="742.50" font-size="25" fill="#131722" font-weight="normal" textLength="33.01" lengthAdjust="spacingAndGlyphs" stroke="#131722" stroke-width="0.3" stroke-linejoin="round">Jul</text>
<text x="631.72" y="742.50" font-size="25" fill="#131722" font-weight="normal" textLength="41.20" lengthAdjust="spacingAndGlyphs" stroke="#131722" stroke-width="0.3" stroke-linejoin="round">Aug</text>
<text x="758.83" y="742.50" font-size="25" fill="#131722" font-weight="normal" textLength="40.74" lengthAdjust="spacingAndGlyphs" stroke="#131722" stroke-width="0.3" stroke-linejoin="round">Sep</text>
<text x="892.41" y="742.50" font-size="25" fill="#131722" font-weight="normal" textLength="39.72" lengthAdjust="spacingAndGlyphs" stroke="#131722" stroke-width="0.3" stroke-linejoin="round">Oct</text>
<text x="1030.61" y="742.50" font-size="25" fill="#131722" font-weight="normal" textLength="42.43" lengthAdjust="spacingAndGlyphs" stroke="#131722" stroke-width="0.3" stroke-linejoin="round">Nov</text>
<text x="1152.23" y="742.50" font-size="25" fill="#131722" font-weight="normal" textLength="42.06" lengthAdjust="spacingAndGlyphs" stroke="#131722" stroke-width="0.3" stroke-linejoin="round">Dec</text>
<g clip-path="url(#tx)">
<text x="1285.58" y="742.50" font-size="25" fill="#131722" font-weight="normal" textLength="56.62" lengthAdjust="spacingAndGlyphs" stroke="#131722" stroke-width="0.8" stroke-linejoin="round">2026</text>
</g>
<text x="1345.62" y="151.75" font-size="24.5" fill="#131722" font-weight="normal" textLength="88.82" lengthAdjust="spacingAndGlyphs" stroke="#131722" stroke-width="0.3" stroke-linejoin="round">0.66000</text>
<text x="1345.62" y="257.75" font-size="24.5" fill="#131722" font-weight="normal" textLength="88.82" lengthAdjust="spacingAndGlyphs" stroke="#131722" stroke-width="0.3" stroke-linejoin="round">0.64000</text>
<text x="1345.62" y="363.75" font-size="24.5" fill="#131722" font-weight="normal" textLength="88.82" lengthAdjust="spacingAndGlyphs" stroke="#131722" stroke-width="0.3" stroke-linejoin="round">0.62000</text>
<text x="1345.62" y="469.75" font-size="24.5" fill="#131722" font-weight="normal" textLength="88.82" lengthAdjust="spacingAndGlyphs" stroke="#131722" stroke-width="0.3" stroke-linejoin="round">0.60000</text>
<path d="M1330 104.0 H1442 Q1444 104.0 1444 106.0 V136.6 Q1444 138.6 1442 138.6 H1330 Z" fill="#6aa84f"/>
<text x="1345.62" y="129.70" font-size="24.5" fill="#fff" font-weight="normal" textLength="88.80" lengthAdjust="spacingAndGlyphs" stroke="#fff" stroke-width="0.3" stroke-linejoin="round">0.66406</text>
<path d="M1330 148.0 H1442 Q1444 148.0 1444 150.0 V180.6 Q1444 182.6 1442 182.6 H1330 Z" fill="#3c3fa5"/>
<text x="1345.64" y="173.70" font-size="24.5" fill="#fff" font-weight="normal" textLength="86.71" lengthAdjust="spacingAndGlyphs" stroke="#fff" stroke-width="0.3" stroke-linejoin="round">0.65571</text>
<path d="M1330 183.8 H1442 Q1444 183.8 1444 185.8 V216.5 Q1444 218.5 1442 218.5 H1330 Z" fill="#bf9000"/>
<text x="1345.62" y="209.55" font-size="24.5" fill="#fff" font-weight="normal" textLength="88.46" lengthAdjust="spacingAndGlyphs" stroke="#fff" stroke-width="0.3" stroke-linejoin="round">0.65044</text>
<rect x="1334.5" y="39" width="122" height="31.5" rx="4" fill="#fff" stroke="#ececef" stroke-width="1.5"/>
<text x="1344.81" y="59.30" font-size="15.2" fill="#131722" font-weight="normal" textLength="26.62" lengthAdjust="spacingAndGlyphs" stroke="#131722" stroke-width="0.25" stroke-linejoin="round">USD</text>
<text x="12.94" y="24.80" font-size="15" fill="#131722" font-weight="normal" textLength="150.21" lengthAdjust="spacingAndGlyphs" stroke="#131722" stroke-width="0.25" stroke-linejoin="round">Continuum_Economics</text>
<text x="168.00" y="24.80" font-size="15" fill="#131722" font-weight="normal" textLength="51.63" lengthAdjust="spacingAndGlyphs" stroke="#131722" stroke-width="0.25" stroke-linejoin="round">created</text>
<text x="224.78" y="24.80" font-size="15" fill="#131722" font-weight="normal" textLength="29.22" lengthAdjust="spacingAndGlyphs" stroke="#131722" stroke-width="0.25" stroke-linejoin="round">with</text>
<text x="258.83" y="24.80" font-size="15" fill="#131722" font-weight="normal" textLength="117.78" lengthAdjust="spacingAndGlyphs" stroke="#131722" stroke-width="0.25" stroke-linejoin="round">TradingView.com,</text>
<text x="381.31" y="24.80" font-size="15" fill="#131722" font-weight="normal" textLength="24.76" lengthAdjust="spacingAndGlyphs" stroke="#131722" stroke-width="0.25" stroke-linejoin="round">Dec</text>
<text x="411.08" y="24.80" font-size="15" fill="#131722" font-weight="normal" textLength="20.80" lengthAdjust="spacingAndGlyphs" stroke="#131722" stroke-width="0.25" stroke-linejoin="round">09,</text>
<text x="436.49" y="24.80" font-size="15" fill="#131722" font-weight="normal" textLength="30.40" lengthAdjust="spacingAndGlyphs" stroke="#131722" stroke-width="0.25" stroke-linejoin="round">2025</text>
<text x="472.89" y="24.80" font-size="15" fill="#131722" font-weight="normal" textLength="35.43" lengthAdjust="spacingAndGlyphs" stroke="#131722" stroke-width="0.25" stroke-linejoin="round">15:01</text>
<text x="513.85" y="24.80" font-size="15" fill="#131722" font-weight="normal" textLength="27.39" lengthAdjust="spacingAndGlyphs" stroke="#131722" stroke-width="0.25" stroke-linejoin="round">UTC</text>
<g fill="#131722"><path d="M15.4 792.5 H30.7 V811 H23.1 V800 H15.4 Z"/><circle cx="37.1" cy="796.1" r="3.65"/><path d="M43 792.5 H52.7 L45.2 811 H37 Z"/></g>
<text x="62.24" y="810.90" font-size="26.5" fill="#131722" font-weight="bold" textLength="150.22" lengthAdjust="spacingAndGlyphs" stroke="#131722" stroke-width="0.5" stroke-linejoin="round">TradingView</text>
</svg>
</body></html>
